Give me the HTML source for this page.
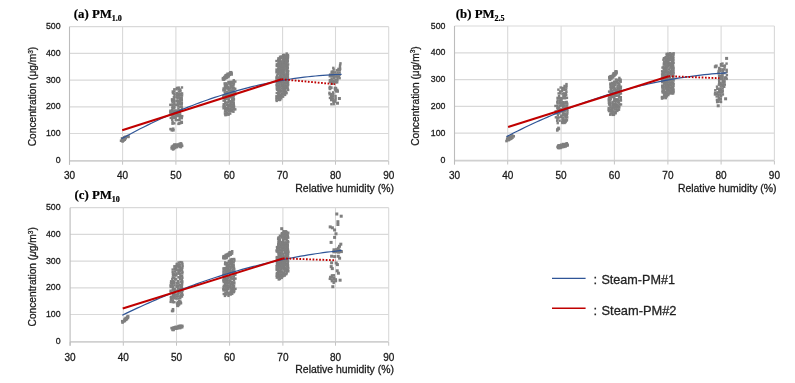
<!DOCTYPE html><html><head><meta charset="utf-8"><style>html,body{margin:0;padding:0;background:#fff;width:795px;height:383px;overflow:hidden}svg{display:block;filter:blur(0.3px)}text{font-family:"Liberation Sans",sans-serif;stroke:#1a1a1a;stroke-width:0.28px}.t{font-family:"Liberation Serif",serif;font-weight:bold;stroke:#000;stroke-width:0.2px}</style></head><body>
<svg width="795" height="383" viewBox="0 0 795 383">
<rect width="795" height="383" fill="#fff"/>
<line x1="69.5" y1="26.7" x2="388.7" y2="26.7" stroke="#d9d9d9" stroke-width="1.2"/>
<line x1="69.5" y1="53.4" x2="388.7" y2="53.4" stroke="#d9d9d9" stroke-width="1.2"/>
<line x1="69.5" y1="80.1" x2="388.7" y2="80.1" stroke="#d9d9d9" stroke-width="1.2"/>
<line x1="69.5" y1="106.8" x2="388.7" y2="106.8" stroke="#d9d9d9" stroke-width="1.2"/>
<line x1="69.5" y1="133.5" x2="388.7" y2="133.5" stroke="#d9d9d9" stroke-width="1.2"/>
<line x1="122.6" y1="26.7" x2="122.6" y2="160.2" stroke="#d9d9d9" stroke-width="1.1"/>
<line x1="175.9" y1="26.7" x2="175.9" y2="160.2" stroke="#d9d9d9" stroke-width="1.1"/>
<line x1="229.3" y1="26.7" x2="229.3" y2="160.2" stroke="#d9d9d9" stroke-width="1.1"/>
<line x1="282.6" y1="26.7" x2="282.6" y2="160.2" stroke="#d9d9d9" stroke-width="1.1"/>
<line x1="335.5" y1="26.7" x2="335.5" y2="160.2" stroke="#d9d9d9" stroke-width="1.1"/>
<line x1="388.7" y1="26.7" x2="388.7" y2="160.2" stroke="#d9d9d9" stroke-width="1.1"/>
<line x1="69.5" y1="160.9" x2="388.7" y2="160.9" stroke="#d0d0d0" stroke-width="1.8"/>
<line x1="69.5" y1="160.9" x2="69.5" y2="164.7" stroke="#c4c4c4" stroke-width="1"/>
<line x1="122.6" y1="160.9" x2="122.6" y2="164.7" stroke="#c4c4c4" stroke-width="1"/>
<line x1="175.9" y1="160.9" x2="175.9" y2="164.7" stroke="#c4c4c4" stroke-width="1"/>
<line x1="229.3" y1="160.9" x2="229.3" y2="164.7" stroke="#c4c4c4" stroke-width="1"/>
<line x1="282.6" y1="160.9" x2="282.6" y2="164.7" stroke="#c4c4c4" stroke-width="1"/>
<line x1="335.5" y1="160.9" x2="335.5" y2="164.7" stroke="#c4c4c4" stroke-width="1"/>
<line x1="388.7" y1="160.9" x2="388.7" y2="164.7" stroke="#c4c4c4" stroke-width="1"/>
<line x1="69.5" y1="26.7" x2="69.5" y2="164.7" stroke="#bcbcbc" stroke-width="1.1"/>
<text x="60.6" y="29.3" font-size="8.8" text-anchor="end" fill="#1a1a1a">500</text>
<text x="60.6" y="56" font-size="8.8" text-anchor="end" fill="#1a1a1a">400</text>
<text x="60.6" y="82.7" font-size="8.8" text-anchor="end" fill="#1a1a1a">300</text>
<text x="60.6" y="109.4" font-size="8.8" text-anchor="end" fill="#1a1a1a">200</text>
<text x="60.6" y="136.1" font-size="8.8" text-anchor="end" fill="#1a1a1a">100</text>
<text x="60.6" y="162.8" font-size="8.8" text-anchor="end" fill="#1a1a1a">0</text>
<text x="69.5" y="178.8" font-size="10" text-anchor="middle" fill="#1a1a1a">30</text>
<text x="122.6" y="178.8" font-size="10" text-anchor="middle" fill="#1a1a1a">40</text>
<text x="175.9" y="178.8" font-size="10" text-anchor="middle" fill="#1a1a1a">50</text>
<text x="229.3" y="178.8" font-size="10" text-anchor="middle" fill="#1a1a1a">60</text>
<text x="282.6" y="178.8" font-size="10" text-anchor="middle" fill="#1a1a1a">70</text>
<text x="335.5" y="178.8" font-size="10" text-anchor="middle" fill="#1a1a1a">80</text>
<text x="388.7" y="178.8" font-size="10" text-anchor="middle" fill="#1a1a1a">90</text>
<text x="295.3" y="191.8" font-size="10.3" textLength="98.6" lengthAdjust="spacingAndGlyphs" fill="#1a1a1a">Relative humidity (%)</text>
<text transform="translate(36.3,96.5) rotate(-90)" font-size="10.2" text-anchor="middle" fill="#1a1a1a">Concentration (μg/m<tspan font-size="6.5" dy="-3.5">3</tspan><tspan dy="3.5">)</tspan></text>
<text x="73.8" y="17.7" class="t" font-size="12.8" fill="#000">(a) PM<tspan font-size="8" dy="3">1.0</tspan></text>
<line x1="454.5" y1="26" x2="774.4" y2="26" stroke="#d9d9d9" stroke-width="1.2"/>
<line x1="454.5" y1="52.8" x2="774.4" y2="52.8" stroke="#d9d9d9" stroke-width="1.2"/>
<line x1="454.5" y1="79.6" x2="774.4" y2="79.6" stroke="#d9d9d9" stroke-width="1.2"/>
<line x1="454.5" y1="106.4" x2="774.4" y2="106.4" stroke="#d9d9d9" stroke-width="1.2"/>
<line x1="454.5" y1="133.2" x2="774.4" y2="133.2" stroke="#d9d9d9" stroke-width="1.2"/>
<line x1="507.7" y1="26" x2="507.7" y2="160" stroke="#d9d9d9" stroke-width="1.1"/>
<line x1="561.1" y1="26" x2="561.1" y2="160" stroke="#d9d9d9" stroke-width="1.1"/>
<line x1="614.4" y1="26" x2="614.4" y2="160" stroke="#d9d9d9" stroke-width="1.1"/>
<line x1="667.9" y1="26" x2="667.9" y2="160" stroke="#d9d9d9" stroke-width="1.1"/>
<line x1="721.1" y1="26" x2="721.1" y2="160" stroke="#d9d9d9" stroke-width="1.1"/>
<line x1="774.4" y1="26" x2="774.4" y2="160" stroke="#d9d9d9" stroke-width="1.1"/>
<line x1="454.5" y1="160.7" x2="774.4" y2="160.7" stroke="#d0d0d0" stroke-width="1.8"/>
<line x1="454.5" y1="160.7" x2="454.5" y2="164.5" stroke="#c4c4c4" stroke-width="1"/>
<line x1="507.7" y1="160.7" x2="507.7" y2="164.5" stroke="#c4c4c4" stroke-width="1"/>
<line x1="561.1" y1="160.7" x2="561.1" y2="164.5" stroke="#c4c4c4" stroke-width="1"/>
<line x1="614.4" y1="160.7" x2="614.4" y2="164.5" stroke="#c4c4c4" stroke-width="1"/>
<line x1="667.9" y1="160.7" x2="667.9" y2="164.5" stroke="#c4c4c4" stroke-width="1"/>
<line x1="721.1" y1="160.7" x2="721.1" y2="164.5" stroke="#c4c4c4" stroke-width="1"/>
<line x1="774.4" y1="160.7" x2="774.4" y2="164.5" stroke="#c4c4c4" stroke-width="1"/>
<line x1="454.5" y1="26" x2="454.5" y2="164.5" stroke="#bcbcbc" stroke-width="1.1"/>
<text x="445.5" y="28.6" font-size="8.8" text-anchor="end" fill="#1a1a1a">500</text>
<text x="445.5" y="55.4" font-size="8.8" text-anchor="end" fill="#1a1a1a">400</text>
<text x="445.5" y="82.2" font-size="8.8" text-anchor="end" fill="#1a1a1a">300</text>
<text x="445.5" y="109" font-size="8.8" text-anchor="end" fill="#1a1a1a">200</text>
<text x="445.5" y="135.8" font-size="8.8" text-anchor="end" fill="#1a1a1a">100</text>
<text x="445.5" y="162.6" font-size="8.8" text-anchor="end" fill="#1a1a1a">0</text>
<text x="454.5" y="178.7" font-size="10" text-anchor="middle" fill="#1a1a1a">30</text>
<text x="507.7" y="178.7" font-size="10" text-anchor="middle" fill="#1a1a1a">40</text>
<text x="561.1" y="178.7" font-size="10" text-anchor="middle" fill="#1a1a1a">50</text>
<text x="614.4" y="178.7" font-size="10" text-anchor="middle" fill="#1a1a1a">60</text>
<text x="667.9" y="178.7" font-size="10" text-anchor="middle" fill="#1a1a1a">70</text>
<text x="721.1" y="178.7" font-size="10" text-anchor="middle" fill="#1a1a1a">80</text>
<text x="774.4" y="178.7" font-size="10" text-anchor="middle" fill="#1a1a1a">90</text>
<text x="677.9" y="192.3" font-size="10.3" textLength="98.6" lengthAdjust="spacingAndGlyphs" fill="#1a1a1a">Relative humidity (%)</text>
<text transform="translate(418.8,96.1) rotate(-90)" font-size="10.2" text-anchor="middle" fill="#1a1a1a">Concentration (μg/m<tspan font-size="6.5" dy="-3.5">3</tspan><tspan dy="3.5">)</tspan></text>
<text x="455.8" y="17.7" class="t" font-size="12.8" fill="#000">(b) PM<tspan font-size="8" dy="3">2.5</tspan></text>
<line x1="70.1" y1="207.7" x2="388.7" y2="207.7" stroke="#d9d9d9" stroke-width="1.2"/>
<line x1="70.1" y1="234.4" x2="388.7" y2="234.4" stroke="#d9d9d9" stroke-width="1.2"/>
<line x1="70.1" y1="261.1" x2="388.7" y2="261.1" stroke="#d9d9d9" stroke-width="1.2"/>
<line x1="70.1" y1="287.8" x2="388.7" y2="287.8" stroke="#d9d9d9" stroke-width="1.2"/>
<line x1="70.1" y1="314.5" x2="388.7" y2="314.5" stroke="#d9d9d9" stroke-width="1.2"/>
<line x1="123.3" y1="207.7" x2="123.3" y2="341.2" stroke="#d9d9d9" stroke-width="1.1"/>
<line x1="176.5" y1="207.7" x2="176.5" y2="341.2" stroke="#d9d9d9" stroke-width="1.1"/>
<line x1="229.6" y1="207.7" x2="229.6" y2="341.2" stroke="#d9d9d9" stroke-width="1.1"/>
<line x1="282.9" y1="207.7" x2="282.9" y2="341.2" stroke="#d9d9d9" stroke-width="1.1"/>
<line x1="335.5" y1="207.7" x2="335.5" y2="341.2" stroke="#d9d9d9" stroke-width="1.1"/>
<line x1="388.7" y1="207.7" x2="388.7" y2="341.2" stroke="#d9d9d9" stroke-width="1.1"/>
<line x1="70.1" y1="341.9" x2="388.7" y2="341.9" stroke="#d0d0d0" stroke-width="1.8"/>
<line x1="70.1" y1="341.9" x2="70.1" y2="345.7" stroke="#c4c4c4" stroke-width="1"/>
<line x1="123.3" y1="341.9" x2="123.3" y2="345.7" stroke="#c4c4c4" stroke-width="1"/>
<line x1="176.5" y1="341.9" x2="176.5" y2="345.7" stroke="#c4c4c4" stroke-width="1"/>
<line x1="229.6" y1="341.9" x2="229.6" y2="345.7" stroke="#c4c4c4" stroke-width="1"/>
<line x1="282.9" y1="341.9" x2="282.9" y2="345.7" stroke="#c4c4c4" stroke-width="1"/>
<line x1="335.5" y1="341.9" x2="335.5" y2="345.7" stroke="#c4c4c4" stroke-width="1"/>
<line x1="388.7" y1="341.9" x2="388.7" y2="345.7" stroke="#c4c4c4" stroke-width="1"/>
<line x1="70.1" y1="207.7" x2="70.1" y2="345.7" stroke="#bcbcbc" stroke-width="1.1"/>
<text x="60.6" y="210.3" font-size="8.8" text-anchor="end" fill="#1a1a1a">500</text>
<text x="60.6" y="237" font-size="8.8" text-anchor="end" fill="#1a1a1a">400</text>
<text x="60.6" y="263.7" font-size="8.8" text-anchor="end" fill="#1a1a1a">300</text>
<text x="60.6" y="290.4" font-size="8.8" text-anchor="end" fill="#1a1a1a">200</text>
<text x="60.6" y="317.1" font-size="8.8" text-anchor="end" fill="#1a1a1a">100</text>
<text x="60.6" y="343.8" font-size="8.8" text-anchor="end" fill="#1a1a1a">0</text>
<text x="70.1" y="360.5" font-size="10" text-anchor="middle" fill="#1a1a1a">30</text>
<text x="123.3" y="360.5" font-size="10" text-anchor="middle" fill="#1a1a1a">40</text>
<text x="176.5" y="360.5" font-size="10" text-anchor="middle" fill="#1a1a1a">50</text>
<text x="229.6" y="360.5" font-size="10" text-anchor="middle" fill="#1a1a1a">60</text>
<text x="282.9" y="360.5" font-size="10" text-anchor="middle" fill="#1a1a1a">70</text>
<text x="335.5" y="360.5" font-size="10" text-anchor="middle" fill="#1a1a1a">80</text>
<text x="388.7" y="360.5" font-size="10" text-anchor="middle" fill="#1a1a1a">90</text>
<text x="295.3" y="372.7" font-size="10.3" textLength="98.6" lengthAdjust="spacingAndGlyphs" fill="#1a1a1a">Relative humidity (%)</text>
<text transform="translate(36.3,276.8) rotate(-90)" font-size="10.2" text-anchor="middle" fill="#1a1a1a">Concentration (<tspan font-style="italic">μ</tspan>g/m<tspan font-size="6.5" dy="-3.5">3</tspan><tspan dy="3.5">)</tspan></text>
<text x="74.5" y="198.9" class="t" font-size="12.8" fill="#000">(c) PM<tspan font-size="8" dy="3">10</tspan></text>
<g fill="#7f7f7f">
<rect x="126.94" y="134.76" width="2.6" height="2.6"/>
<rect x="123.04" y="135.99" width="2.6" height="2.6"/>
<rect x="124.32" y="135.39" width="2.6" height="2.6"/>
<rect x="126.05" y="135.44" width="2.6" height="2.6"/>
<rect x="127.11" y="135.6" width="2.6" height="2.6"/>
<rect x="120.76" y="137.04" width="2.6" height="2.6"/>
<rect x="122.05" y="136.97" width="2.6" height="2.6"/>
<rect x="123.24" y="137.14" width="2.6" height="2.6"/>
<rect x="124.4" y="136.96" width="2.6" height="2.6"/>
<rect x="121.21" y="137.82" width="2.6" height="2.6"/>
<rect x="121.83" y="138.23" width="2.6" height="2.6"/>
<rect x="123.46" y="138.4" width="2.6" height="2.6"/>
<rect x="119.78" y="139.43" width="2.6" height="2.6"/>
<rect x="121.16" y="139.42" width="2.6" height="2.6"/>
<rect x="122.46" y="139.13" width="2.6" height="2.6"/>
<rect x="121.3" y="140.16" width="2.6" height="2.6"/>
<rect x="175.72" y="86.72" width="2.4" height="2.4"/>
<rect x="177.54" y="86.41" width="2.4" height="2.4"/>
<rect x="180.75" y="86.27" width="2.4" height="2.4"/>
<rect x="173.1" y="88.12" width="2.4" height="2.4"/>
<rect x="175.29" y="88.02" width="2.4" height="2.4"/>
<rect x="177.39" y="88.12" width="2.4" height="2.4"/>
<rect x="179.08" y="88.29" width="2.4" height="2.4"/>
<rect x="171.57" y="90.29" width="2.4" height="2.4"/>
<rect x="173.18" y="90.17" width="2.4" height="2.4"/>
<rect x="177.66" y="90.32" width="2.4" height="2.4"/>
<rect x="179.23" y="89.92" width="2.4" height="2.4"/>
<rect x="171.76" y="92.01" width="2.4" height="2.4"/>
<rect x="173.23" y="92.42" width="2.4" height="2.4"/>
<rect x="175.62" y="92.06" width="2.4" height="2.4"/>
<rect x="177.55" y="92.59" width="2.4" height="2.4"/>
<rect x="179.44" y="92.45" width="2.4" height="2.4"/>
<rect x="180.88" y="92.21" width="2.4" height="2.4"/>
<rect x="173.32" y="93.91" width="2.4" height="2.4"/>
<rect x="175.77" y="94.06" width="2.4" height="2.4"/>
<rect x="177.69" y="94.46" width="2.4" height="2.4"/>
<rect x="178.98" y="93.88" width="2.4" height="2.4"/>
<rect x="180.86" y="94.2" width="2.4" height="2.4"/>
<rect x="172.67" y="96.03" width="2.4" height="2.4"/>
<rect x="175.13" y="96.1" width="2.4" height="2.4"/>
<rect x="176.54" y="96.13" width="2.4" height="2.4"/>
<rect x="178.94" y="96.28" width="2.4" height="2.4"/>
<rect x="180.52" y="96.26" width="2.4" height="2.4"/>
<rect x="170.82" y="98.12" width="2.4" height="2.4"/>
<rect x="172.72" y="98.06" width="2.4" height="2.4"/>
<rect x="176.5" y="97.41" width="2.4" height="2.4"/>
<rect x="178.82" y="97.82" width="2.4" height="2.4"/>
<rect x="180.55" y="98.1" width="2.4" height="2.4"/>
<rect x="170.93" y="99.49" width="2.4" height="2.4"/>
<rect x="172.81" y="99.64" width="2.4" height="2.4"/>
<rect x="175.23" y="99.58" width="2.4" height="2.4"/>
<rect x="176.87" y="100.02" width="2.4" height="2.4"/>
<rect x="179.03" y="99.7" width="2.4" height="2.4"/>
<rect x="180.62" y="99.31" width="2.4" height="2.4"/>
<rect x="171.34" y="101.34" width="2.4" height="2.4"/>
<rect x="173.18" y="101.65" width="2.4" height="2.4"/>
<rect x="176.48" y="101.65" width="2.4" height="2.4"/>
<rect x="178.52" y="101.82" width="2.4" height="2.4"/>
<rect x="180.65" y="101.81" width="2.4" height="2.4"/>
<rect x="169.15" y="103.59" width="2.4" height="2.4"/>
<rect x="171.11" y="103.65" width="2.4" height="2.4"/>
<rect x="173.03" y="103.48" width="2.4" height="2.4"/>
<rect x="175.06" y="103.8" width="2.4" height="2.4"/>
<rect x="176.61" y="103.55" width="2.4" height="2.4"/>
<rect x="178.97" y="103.21" width="2.4" height="2.4"/>
<rect x="180.55" y="103.16" width="2.4" height="2.4"/>
<rect x="171.33" y="105.72" width="2.4" height="2.4"/>
<rect x="173.17" y="105.53" width="2.4" height="2.4"/>
<rect x="177.16" y="105.32" width="2.4" height="2.4"/>
<rect x="179.09" y="105.67" width="2.4" height="2.4"/>
<rect x="180.55" y="105.41" width="2.4" height="2.4"/>
<rect x="171.28" y="106.92" width="2.4" height="2.4"/>
<rect x="172.95" y="106.91" width="2.4" height="2.4"/>
<rect x="177.19" y="107.53" width="2.4" height="2.4"/>
<rect x="180.82" y="107.12" width="2.4" height="2.4"/>
<rect x="169.14" y="109.53" width="2.4" height="2.4"/>
<rect x="170.91" y="108.92" width="2.4" height="2.4"/>
<rect x="173.06" y="109.36" width="2.4" height="2.4"/>
<rect x="174.55" y="109.35" width="2.4" height="2.4"/>
<rect x="176.46" y="109.55" width="2.4" height="2.4"/>
<rect x="178.94" y="108.87" width="2.4" height="2.4"/>
<rect x="180.25" y="109.49" width="2.4" height="2.4"/>
<rect x="169.07" y="111.14" width="2.4" height="2.4"/>
<rect x="170.91" y="110.8" width="2.4" height="2.4"/>
<rect x="172.79" y="110.79" width="2.4" height="2.4"/>
<rect x="174.54" y="110.86" width="2.4" height="2.4"/>
<rect x="176.64" y="111.31" width="2.4" height="2.4"/>
<rect x="178.7" y="110.84" width="2.4" height="2.4"/>
<rect x="169.39" y="113.04" width="2.4" height="2.4"/>
<rect x="171.08" y="113.35" width="2.4" height="2.4"/>
<rect x="173.26" y="112.95" width="2.4" height="2.4"/>
<rect x="175.17" y="112.91" width="2.4" height="2.4"/>
<rect x="176.95" y="113.39" width="2.4" height="2.4"/>
<rect x="178.97" y="113.17" width="2.4" height="2.4"/>
<rect x="171.29" y="114.7" width="2.4" height="2.4"/>
<rect x="172.67" y="115.17" width="2.4" height="2.4"/>
<rect x="175.04" y="114.73" width="2.4" height="2.4"/>
<rect x="176.63" y="114.87" width="2.4" height="2.4"/>
<rect x="178.66" y="114.71" width="2.4" height="2.4"/>
<rect x="180.98" y="114.94" width="2.4" height="2.4"/>
<rect x="169.57" y="116.65" width="2.4" height="2.4"/>
<rect x="170.7" y="116.71" width="2.4" height="2.4"/>
<rect x="173" y="116.56" width="2.4" height="2.4"/>
<rect x="174.5" y="116.61" width="2.4" height="2.4"/>
<rect x="178.54" y="116.59" width="2.4" height="2.4"/>
<rect x="180.62" y="117" width="2.4" height="2.4"/>
<rect x="171.01" y="118.56" width="2.4" height="2.4"/>
<rect x="174.54" y="118.97" width="2.4" height="2.4"/>
<rect x="176.9" y="118.89" width="2.4" height="2.4"/>
<rect x="178.41" y="118.72" width="2.4" height="2.4"/>
<rect x="171.41" y="120.75" width="2.4" height="2.4"/>
<rect x="171.3" y="122.5" width="2.4" height="2.4"/>
<rect x="173.13" y="122.15" width="2.4" height="2.4"/>
<rect x="180.3" y="120.69" width="2.6" height="2.6"/>
<rect x="178.24" y="121.85" width="2.6" height="2.6"/>
<rect x="179.13" y="121.71" width="2.6" height="2.6"/>
<rect x="180.47" y="121.39" width="2.6" height="2.6"/>
<rect x="177.25" y="122.51" width="2.6" height="2.6"/>
<rect x="169.29" y="127.82" width="2.6" height="2.6"/>
<rect x="171.89" y="127.46" width="2.6" height="2.6"/>
<rect x="170.55" y="128.97" width="2.6" height="2.6"/>
<rect x="172.1" y="128.97" width="2.6" height="2.6"/>
<rect x="178.53" y="142.45" width="2.6" height="2.6"/>
<rect x="179.71" y="142.11" width="2.6" height="2.6"/>
<rect x="173.05" y="143.34" width="2.6" height="2.6"/>
<rect x="173.54" y="143.49" width="2.6" height="2.6"/>
<rect x="175.3" y="143.42" width="2.6" height="2.6"/>
<rect x="175.94" y="143.64" width="2.6" height="2.6"/>
<rect x="177.48" y="143.17" width="2.6" height="2.6"/>
<rect x="178.89" y="143.68" width="2.6" height="2.6"/>
<rect x="180.02" y="143.14" width="2.6" height="2.6"/>
<rect x="171.82" y="144.5" width="2.6" height="2.6"/>
<rect x="173.03" y="144.9" width="2.6" height="2.6"/>
<rect x="173.61" y="144.25" width="2.6" height="2.6"/>
<rect x="174.97" y="144.17" width="2.6" height="2.6"/>
<rect x="176.11" y="144.56" width="2.6" height="2.6"/>
<rect x="177.7" y="144.43" width="2.6" height="2.6"/>
<rect x="178.72" y="144.4" width="2.6" height="2.6"/>
<rect x="179.55" y="144.32" width="2.6" height="2.6"/>
<rect x="180.8" y="144.5" width="2.6" height="2.6"/>
<rect x="170.59" y="145.47" width="2.6" height="2.6"/>
<rect x="171.3" y="145.62" width="2.6" height="2.6"/>
<rect x="173.06" y="145.98" width="2.6" height="2.6"/>
<rect x="173.52" y="145.33" width="2.6" height="2.6"/>
<rect x="175.42" y="145.68" width="2.6" height="2.6"/>
<rect x="175.9" y="145.61" width="2.6" height="2.6"/>
<rect x="179.08" y="145.5" width="2.6" height="2.6"/>
<rect x="179.62" y="145.72" width="2.6" height="2.6"/>
<rect x="170.42" y="147.11" width="2.6" height="2.6"/>
<rect x="171.54" y="146.53" width="2.6" height="2.6"/>
<rect x="172.49" y="147.24" width="2.6" height="2.6"/>
<rect x="173.74" y="146.6" width="2.6" height="2.6"/>
<rect x="171.81" y="148.08" width="2.6" height="2.6"/>
<rect x="229.16" y="71" width="2.6" height="2.6"/>
<rect x="229.78" y="70.93" width="2.6" height="2.6"/>
<rect x="226.31" y="72.52" width="2.6" height="2.6"/>
<rect x="227.79" y="72.6" width="2.6" height="2.6"/>
<rect x="228.66" y="71.95" width="2.6" height="2.6"/>
<rect x="230.2" y="71.83" width="2.6" height="2.6"/>
<rect x="225.08" y="73.76" width="2.6" height="2.6"/>
<rect x="226.77" y="73.17" width="2.6" height="2.6"/>
<rect x="227.86" y="73.66" width="2.6" height="2.6"/>
<rect x="228.44" y="73.38" width="2.6" height="2.6"/>
<rect x="230.34" y="73.15" width="2.6" height="2.6"/>
<rect x="224.21" y="74.23" width="2.6" height="2.6"/>
<rect x="224.85" y="74.94" width="2.6" height="2.6"/>
<rect x="226.6" y="74.92" width="2.6" height="2.6"/>
<rect x="227.42" y="74.97" width="2.6" height="2.6"/>
<rect x="223.13" y="75.91" width="2.6" height="2.6"/>
<rect x="223.62" y="75.59" width="2.6" height="2.6"/>
<rect x="225.57" y="76.16" width="2.6" height="2.6"/>
<rect x="226.2" y="75.74" width="2.6" height="2.6"/>
<rect x="221.69" y="76.86" width="2.6" height="2.6"/>
<rect x="222.69" y="77.23" width="2.6" height="2.6"/>
<rect x="223.76" y="77.2" width="2.6" height="2.6"/>
<rect x="224.85" y="76.63" width="2.6" height="2.6"/>
<rect x="221.77" y="78.16" width="2.6" height="2.6"/>
<rect x="222.73" y="78.3" width="2.6" height="2.6"/>
<rect x="232.58" y="79.06" width="2.4" height="2.4"/>
<rect x="227.25" y="80.84" width="2.4" height="2.4"/>
<rect x="228.91" y="80.77" width="2.4" height="2.4"/>
<rect x="230.53" y="80.63" width="2.4" height="2.4"/>
<rect x="232.37" y="80.44" width="2.4" height="2.4"/>
<rect x="234.11" y="80.35" width="2.4" height="2.4"/>
<rect x="223.46" y="82.16" width="2.4" height="2.4"/>
<rect x="225.35" y="82.15" width="2.4" height="2.4"/>
<rect x="227.59" y="82.34" width="2.4" height="2.4"/>
<rect x="228.78" y="82.22" width="2.4" height="2.4"/>
<rect x="230.96" y="81.97" width="2.4" height="2.4"/>
<rect x="232.76" y="82.23" width="2.4" height="2.4"/>
<rect x="223.74" y="83.98" width="2.4" height="2.4"/>
<rect x="226" y="83.94" width="2.4" height="2.4"/>
<rect x="229.42" y="83.99" width="2.4" height="2.4"/>
<rect x="230.77" y="84.36" width="2.4" height="2.4"/>
<rect x="232.33" y="83.66" width="2.4" height="2.4"/>
<rect x="223.75" y="85.8" width="2.4" height="2.4"/>
<rect x="225.43" y="85.82" width="2.4" height="2.4"/>
<rect x="227.04" y="85.79" width="2.4" height="2.4"/>
<rect x="229.47" y="85.56" width="2.4" height="2.4"/>
<rect x="231.2" y="86.18" width="2.4" height="2.4"/>
<rect x="232.24" y="86.14" width="2.4" height="2.4"/>
<rect x="222.36" y="87.28" width="2.4" height="2.4"/>
<rect x="223.63" y="87.47" width="2.4" height="2.4"/>
<rect x="225.86" y="87.3" width="2.4" height="2.4"/>
<rect x="227.27" y="87.56" width="2.4" height="2.4"/>
<rect x="228.8" y="87.35" width="2.4" height="2.4"/>
<rect x="231.17" y="87.18" width="2.4" height="2.4"/>
<rect x="232.81" y="87.18" width="2.4" height="2.4"/>
<rect x="234.04" y="87.63" width="2.4" height="2.4"/>
<rect x="222.2" y="89.14" width="2.4" height="2.4"/>
<rect x="223.92" y="89.24" width="2.4" height="2.4"/>
<rect x="227.45" y="89.29" width="2.4" height="2.4"/>
<rect x="229.31" y="89.52" width="2.4" height="2.4"/>
<rect x="230.59" y="89.28" width="2.4" height="2.4"/>
<rect x="232.3" y="89.24" width="2.4" height="2.4"/>
<rect x="223.52" y="91.24" width="2.4" height="2.4"/>
<rect x="225.61" y="90.69" width="2.4" height="2.4"/>
<rect x="227.25" y="91.41" width="2.4" height="2.4"/>
<rect x="229.39" y="91.45" width="2.4" height="2.4"/>
<rect x="231.1" y="90.8" width="2.4" height="2.4"/>
<rect x="232.59" y="91.42" width="2.4" height="2.4"/>
<rect x="234.08" y="91.28" width="2.4" height="2.4"/>
<rect x="224.05" y="92.53" width="2.4" height="2.4"/>
<rect x="225.42" y="93.05" width="2.4" height="2.4"/>
<rect x="227.35" y="93.14" width="2.4" height="2.4"/>
<rect x="228.91" y="92.8" width="2.4" height="2.4"/>
<rect x="230.48" y="92.55" width="2.4" height="2.4"/>
<rect x="232.95" y="92.94" width="2.4" height="2.4"/>
<rect x="234.08" y="93.03" width="2.4" height="2.4"/>
<rect x="222.12" y="94.66" width="2.4" height="2.4"/>
<rect x="224.15" y="94.59" width="2.4" height="2.4"/>
<rect x="225.91" y="94.23" width="2.4" height="2.4"/>
<rect x="227.45" y="94.47" width="2.4" height="2.4"/>
<rect x="228.91" y="94.94" width="2.4" height="2.4"/>
<rect x="230.74" y="94.76" width="2.4" height="2.4"/>
<rect x="232.34" y="94.74" width="2.4" height="2.4"/>
<rect x="222.21" y="96.69" width="2.4" height="2.4"/>
<rect x="225.23" y="96.02" width="2.4" height="2.4"/>
<rect x="227.3" y="96.31" width="2.4" height="2.4"/>
<rect x="228.81" y="96.08" width="2.4" height="2.4"/>
<rect x="230.47" y="95.9" width="2.4" height="2.4"/>
<rect x="232.29" y="96.19" width="2.4" height="2.4"/>
<rect x="223.83" y="97.76" width="2.4" height="2.4"/>
<rect x="225.39" y="97.77" width="2.4" height="2.4"/>
<rect x="227.46" y="98.35" width="2.4" height="2.4"/>
<rect x="230.97" y="98.1" width="2.4" height="2.4"/>
<rect x="232.72" y="98.01" width="2.4" height="2.4"/>
<rect x="222.42" y="99.44" width="2.4" height="2.4"/>
<rect x="223.77" y="99.59" width="2.4" height="2.4"/>
<rect x="227.7" y="99.51" width="2.4" height="2.4"/>
<rect x="229.19" y="99.81" width="2.4" height="2.4"/>
<rect x="231.1" y="99.54" width="2.4" height="2.4"/>
<rect x="232.44" y="99.44" width="2.4" height="2.4"/>
<rect x="224.05" y="101.52" width="2.4" height="2.4"/>
<rect x="225.56" y="101.33" width="2.4" height="2.4"/>
<rect x="227.14" y="101.18" width="2.4" height="2.4"/>
<rect x="229.3" y="101.71" width="2.4" height="2.4"/>
<rect x="231.02" y="101.36" width="2.4" height="2.4"/>
<rect x="232.55" y="101.78" width="2.4" height="2.4"/>
<rect x="222.47" y="103.07" width="2.4" height="2.4"/>
<rect x="223.46" y="103.11" width="2.4" height="2.4"/>
<rect x="225.8" y="103.66" width="2.4" height="2.4"/>
<rect x="227.21" y="103.6" width="2.4" height="2.4"/>
<rect x="228.89" y="103.63" width="2.4" height="2.4"/>
<rect x="231" y="103.43" width="2.4" height="2.4"/>
<rect x="232.58" y="103.57" width="2.4" height="2.4"/>
<rect x="222.28" y="105.11" width="2.4" height="2.4"/>
<rect x="223.62" y="105.15" width="2.4" height="2.4"/>
<rect x="227.04" y="105.39" width="2.4" height="2.4"/>
<rect x="228.81" y="104.67" width="2.4" height="2.4"/>
<rect x="231" y="105.16" width="2.4" height="2.4"/>
<rect x="232.79" y="104.7" width="2.4" height="2.4"/>
<rect x="222.36" y="107.11" width="2.4" height="2.4"/>
<rect x="224.14" y="107.13" width="2.4" height="2.4"/>
<rect x="225.29" y="106.56" width="2.4" height="2.4"/>
<rect x="226.98" y="107.08" width="2.4" height="2.4"/>
<rect x="229.21" y="107.06" width="2.4" height="2.4"/>
<rect x="230.68" y="106.48" width="2.4" height="2.4"/>
<rect x="232.81" y="106.56" width="2.4" height="2.4"/>
<rect x="224.02" y="108.44" width="2.4" height="2.4"/>
<rect x="225.97" y="108.55" width="2.4" height="2.4"/>
<rect x="227.44" y="108.17" width="2.4" height="2.4"/>
<rect x="229.05" y="108.77" width="2.4" height="2.4"/>
<rect x="231.01" y="108.58" width="2.4" height="2.4"/>
<rect x="232.89" y="108.22" width="2.4" height="2.4"/>
<rect x="234.09" y="108.15" width="2.4" height="2.4"/>
<rect x="223.84" y="110.29" width="2.4" height="2.4"/>
<rect x="225.35" y="110.3" width="2.4" height="2.4"/>
<rect x="227.62" y="110.11" width="2.4" height="2.4"/>
<rect x="228.93" y="110.07" width="2.4" height="2.4"/>
<rect x="230.85" y="109.99" width="2.4" height="2.4"/>
<rect x="232.26" y="110.53" width="2.4" height="2.4"/>
<rect x="223.77" y="112.36" width="2.4" height="2.4"/>
<rect x="225.91" y="111.67" width="2.4" height="2.4"/>
<rect x="227.16" y="112.37" width="2.4" height="2.4"/>
<rect x="229" y="112.36" width="2.4" height="2.4"/>
<rect x="224.12" y="113.93" width="2.4" height="2.4"/>
<rect x="225.34" y="113.75" width="2.4" height="2.4"/>
<rect x="227.41" y="113.5" width="2.4" height="2.4"/>
<rect x="285.49" y="52.34" width="2.4" height="2.4"/>
<rect x="281.9" y="53.81" width="2.4" height="2.4"/>
<rect x="283.21" y="53.78" width="2.4" height="2.4"/>
<rect x="285.29" y="54.03" width="2.4" height="2.4"/>
<rect x="286.76" y="53.9" width="2.4" height="2.4"/>
<rect x="278.86" y="55.58" width="2.4" height="2.4"/>
<rect x="280.41" y="55.26" width="2.4" height="2.4"/>
<rect x="282" y="54.98" width="2.4" height="2.4"/>
<rect x="283.73" y="55.47" width="2.4" height="2.4"/>
<rect x="284.9" y="55.24" width="2.4" height="2.4"/>
<rect x="286.8" y="55.23" width="2.4" height="2.4"/>
<rect x="277.22" y="57.12" width="2.4" height="2.4"/>
<rect x="278.69" y="57.28" width="2.4" height="2.4"/>
<rect x="280.33" y="56.63" width="2.4" height="2.4"/>
<rect x="282.25" y="56.92" width="2.4" height="2.4"/>
<rect x="283.56" y="56.93" width="2.4" height="2.4"/>
<rect x="285.11" y="57.01" width="2.4" height="2.4"/>
<rect x="286.72" y="56.83" width="2.4" height="2.4"/>
<rect x="277.01" y="58.71" width="2.4" height="2.4"/>
<rect x="279.09" y="58.38" width="2.4" height="2.4"/>
<rect x="281.83" y="58.44" width="2.4" height="2.4"/>
<rect x="283.38" y="58.31" width="2.4" height="2.4"/>
<rect x="285.29" y="58.85" width="2.4" height="2.4"/>
<rect x="286.48" y="58.74" width="2.4" height="2.4"/>
<rect x="275.27" y="59.8" width="2.4" height="2.4"/>
<rect x="277.35" y="60.21" width="2.4" height="2.4"/>
<rect x="278.75" y="59.88" width="2.4" height="2.4"/>
<rect x="280.18" y="60.21" width="2.4" height="2.4"/>
<rect x="282.15" y="60.07" width="2.4" height="2.4"/>
<rect x="283.54" y="59.8" width="2.4" height="2.4"/>
<rect x="284.98" y="60.38" width="2.4" height="2.4"/>
<rect x="286.6" y="59.9" width="2.4" height="2.4"/>
<rect x="277.28" y="61.52" width="2.4" height="2.4"/>
<rect x="278.54" y="61.68" width="2.4" height="2.4"/>
<rect x="280.41" y="61.83" width="2.4" height="2.4"/>
<rect x="282.24" y="61.98" width="2.4" height="2.4"/>
<rect x="283.76" y="62.02" width="2.4" height="2.4"/>
<rect x="284.81" y="61.97" width="2.4" height="2.4"/>
<rect x="286.31" y="61.31" width="2.4" height="2.4"/>
<rect x="275.62" y="63.1" width="2.4" height="2.4"/>
<rect x="276.81" y="63.09" width="2.4" height="2.4"/>
<rect x="278.58" y="63.02" width="2.4" height="2.4"/>
<rect x="280.53" y="63.03" width="2.4" height="2.4"/>
<rect x="281.99" y="63.53" width="2.4" height="2.4"/>
<rect x="283.82" y="63.53" width="2.4" height="2.4"/>
<rect x="284.86" y="63.45" width="2.4" height="2.4"/>
<rect x="286.89" y="63.25" width="2.4" height="2.4"/>
<rect x="275.54" y="64.71" width="2.4" height="2.4"/>
<rect x="276.81" y="64.89" width="2.4" height="2.4"/>
<rect x="278.67" y="64.62" width="2.4" height="2.4"/>
<rect x="280.3" y="64.93" width="2.4" height="2.4"/>
<rect x="281.51" y="65.17" width="2.4" height="2.4"/>
<rect x="283.55" y="65.03" width="2.4" height="2.4"/>
<rect x="285" y="64.84" width="2.4" height="2.4"/>
<rect x="286.36" y="65.01" width="2.4" height="2.4"/>
<rect x="277.25" y="66.85" width="2.4" height="2.4"/>
<rect x="279.09" y="66.51" width="2.4" height="2.4"/>
<rect x="280.62" y="66.13" width="2.4" height="2.4"/>
<rect x="282" y="66.37" width="2.4" height="2.4"/>
<rect x="283.39" y="66.48" width="2.4" height="2.4"/>
<rect x="285.32" y="66.27" width="2.4" height="2.4"/>
<rect x="286.64" y="66.54" width="2.4" height="2.4"/>
<rect x="275.33" y="68.36" width="2.4" height="2.4"/>
<rect x="277.1" y="67.92" width="2.4" height="2.4"/>
<rect x="279.08" y="68.22" width="2.4" height="2.4"/>
<rect x="280.16" y="67.95" width="2.4" height="2.4"/>
<rect x="281.97" y="68.21" width="2.4" height="2.4"/>
<rect x="283.13" y="68.28" width="2.4" height="2.4"/>
<rect x="285.14" y="67.74" width="2.4" height="2.4"/>
<rect x="286.3" y="67.85" width="2.4" height="2.4"/>
<rect x="275.59" y="69.83" width="2.4" height="2.4"/>
<rect x="277.43" y="69.79" width="2.4" height="2.4"/>
<rect x="278.8" y="69.86" width="2.4" height="2.4"/>
<rect x="280.44" y="69.47" width="2.4" height="2.4"/>
<rect x="281.87" y="69.91" width="2.4" height="2.4"/>
<rect x="283.25" y="69.33" width="2.4" height="2.4"/>
<rect x="285.43" y="69.82" width="2.4" height="2.4"/>
<rect x="286.96" y="69.93" width="2.4" height="2.4"/>
<rect x="275.31" y="71.14" width="2.4" height="2.4"/>
<rect x="276.95" y="71.24" width="2.4" height="2.4"/>
<rect x="279.05" y="70.94" width="2.4" height="2.4"/>
<rect x="279.93" y="71" width="2.4" height="2.4"/>
<rect x="281.96" y="71.63" width="2.4" height="2.4"/>
<rect x="283.11" y="71.21" width="2.4" height="2.4"/>
<rect x="285.45" y="71.68" width="2.4" height="2.4"/>
<rect x="286.63" y="70.98" width="2.4" height="2.4"/>
<rect x="276.7" y="73.05" width="2.4" height="2.4"/>
<rect x="279.07" y="72.57" width="2.4" height="2.4"/>
<rect x="280" y="72.51" width="2.4" height="2.4"/>
<rect x="281.69" y="73.09" width="2.4" height="2.4"/>
<rect x="283.14" y="73.12" width="2.4" height="2.4"/>
<rect x="285.38" y="73.08" width="2.4" height="2.4"/>
<rect x="286.8" y="73.07" width="2.4" height="2.4"/>
<rect x="275.85" y="74.3" width="2.4" height="2.4"/>
<rect x="278.82" y="74.75" width="2.4" height="2.4"/>
<rect x="280.15" y="74.68" width="2.4" height="2.4"/>
<rect x="282.19" y="74.49" width="2.4" height="2.4"/>
<rect x="283.39" y="74.56" width="2.4" height="2.4"/>
<rect x="285.24" y="74.22" width="2.4" height="2.4"/>
<rect x="286.59" y="74.62" width="2.4" height="2.4"/>
<rect x="275.43" y="76.01" width="2.4" height="2.4"/>
<rect x="277.46" y="76.33" width="2.4" height="2.4"/>
<rect x="278.53" y="75.75" width="2.4" height="2.4"/>
<rect x="280.46" y="76.36" width="2.4" height="2.4"/>
<rect x="281.98" y="76.48" width="2.4" height="2.4"/>
<rect x="283.58" y="75.95" width="2.4" height="2.4"/>
<rect x="285.41" y="76" width="2.4" height="2.4"/>
<rect x="286.78" y="76.42" width="2.4" height="2.4"/>
<rect x="275.33" y="77.3" width="2.4" height="2.4"/>
<rect x="277.04" y="77.77" width="2.4" height="2.4"/>
<rect x="279.01" y="77.33" width="2.4" height="2.4"/>
<rect x="280.55" y="77.99" width="2.4" height="2.4"/>
<rect x="281.72" y="77.98" width="2.4" height="2.4"/>
<rect x="283.65" y="78.03" width="2.4" height="2.4"/>
<rect x="284.77" y="77.74" width="2.4" height="2.4"/>
<rect x="286.46" y="77.9" width="2.4" height="2.4"/>
<rect x="275.29" y="79.39" width="2.4" height="2.4"/>
<rect x="277.07" y="79.07" width="2.4" height="2.4"/>
<rect x="278.9" y="79.53" width="2.4" height="2.4"/>
<rect x="279.97" y="79.55" width="2.4" height="2.4"/>
<rect x="281.69" y="79.36" width="2.4" height="2.4"/>
<rect x="283.81" y="79.32" width="2.4" height="2.4"/>
<rect x="285.17" y="79.05" width="2.4" height="2.4"/>
<rect x="286.44" y="79.46" width="2.4" height="2.4"/>
<rect x="275.55" y="80.82" width="2.4" height="2.4"/>
<rect x="276.82" y="80.54" width="2.4" height="2.4"/>
<rect x="278.6" y="80.58" width="2.4" height="2.4"/>
<rect x="280.53" y="80.62" width="2.4" height="2.4"/>
<rect x="281.78" y="80.92" width="2.4" height="2.4"/>
<rect x="283.13" y="81.29" width="2.4" height="2.4"/>
<rect x="285.09" y="80.95" width="2.4" height="2.4"/>
<rect x="286.92" y="80.84" width="2.4" height="2.4"/>
<rect x="275.71" y="82.76" width="2.4" height="2.4"/>
<rect x="276.9" y="82.13" width="2.4" height="2.4"/>
<rect x="278.44" y="82.17" width="2.4" height="2.4"/>
<rect x="280.35" y="82.8" width="2.4" height="2.4"/>
<rect x="282.26" y="82.83" width="2.4" height="2.4"/>
<rect x="283.58" y="82.42" width="2.4" height="2.4"/>
<rect x="285.47" y="82.31" width="2.4" height="2.4"/>
<rect x="286.81" y="82.87" width="2.4" height="2.4"/>
<rect x="275.41" y="84.06" width="2.4" height="2.4"/>
<rect x="277.47" y="84.49" width="2.4" height="2.4"/>
<rect x="278.33" y="83.9" width="2.4" height="2.4"/>
<rect x="280.62" y="84.42" width="2.4" height="2.4"/>
<rect x="281.54" y="84.33" width="2.4" height="2.4"/>
<rect x="283.62" y="84.49" width="2.4" height="2.4"/>
<rect x="284.82" y="84.3" width="2.4" height="2.4"/>
<rect x="286.84" y="83.94" width="2.4" height="2.4"/>
<rect x="275.71" y="85.38" width="2.4" height="2.4"/>
<rect x="276.91" y="85.4" width="2.4" height="2.4"/>
<rect x="278.43" y="85.49" width="2.4" height="2.4"/>
<rect x="280.44" y="85.31" width="2.4" height="2.4"/>
<rect x="281.66" y="85.33" width="2.4" height="2.4"/>
<rect x="283.28" y="86.05" width="2.4" height="2.4"/>
<rect x="285.41" y="85.41" width="2.4" height="2.4"/>
<rect x="286.38" y="86.04" width="2.4" height="2.4"/>
<rect x="275.6" y="87.26" width="2.4" height="2.4"/>
<rect x="277.36" y="87.28" width="2.4" height="2.4"/>
<rect x="278.41" y="87.08" width="2.4" height="2.4"/>
<rect x="280.47" y="87.34" width="2.4" height="2.4"/>
<rect x="282.2" y="87.11" width="2.4" height="2.4"/>
<rect x="283.22" y="87.12" width="2.4" height="2.4"/>
<rect x="284.97" y="87.03" width="2.4" height="2.4"/>
<rect x="286.55" y="87.62" width="2.4" height="2.4"/>
<rect x="275.88" y="88.55" width="2.4" height="2.4"/>
<rect x="277.23" y="88.67" width="2.4" height="2.4"/>
<rect x="278.53" y="88.71" width="2.4" height="2.4"/>
<rect x="280.19" y="89.29" width="2.4" height="2.4"/>
<rect x="282.24" y="88.58" width="2.4" height="2.4"/>
<rect x="283.82" y="88.55" width="2.4" height="2.4"/>
<rect x="286.95" y="88.77" width="2.4" height="2.4"/>
<rect x="277.12" y="90.25" width="2.4" height="2.4"/>
<rect x="279.03" y="90.27" width="2.4" height="2.4"/>
<rect x="280.01" y="90.24" width="2.4" height="2.4"/>
<rect x="282.07" y="90.26" width="2.4" height="2.4"/>
<rect x="283.17" y="90.59" width="2.4" height="2.4"/>
<rect x="284.92" y="90.26" width="2.4" height="2.4"/>
<rect x="275.57" y="91.86" width="2.4" height="2.4"/>
<rect x="277.29" y="92.03" width="2.4" height="2.4"/>
<rect x="278.34" y="92.35" width="2.4" height="2.4"/>
<rect x="280.57" y="92.39" width="2.4" height="2.4"/>
<rect x="281.51" y="92.43" width="2.4" height="2.4"/>
<rect x="283.8" y="91.91" width="2.4" height="2.4"/>
<rect x="285.37" y="91.99" width="2.4" height="2.4"/>
<rect x="277.06" y="93.71" width="2.4" height="2.4"/>
<rect x="278.87" y="93.95" width="2.4" height="2.4"/>
<rect x="280.16" y="93.87" width="2.4" height="2.4"/>
<rect x="282.1" y="93.35" width="2.4" height="2.4"/>
<rect x="283.86" y="93.7" width="2.4" height="2.4"/>
<rect x="275.28" y="95.05" width="2.4" height="2.4"/>
<rect x="276.9" y="95.55" width="2.4" height="2.4"/>
<rect x="278.38" y="95.46" width="2.4" height="2.4"/>
<rect x="279.91" y="95.38" width="2.4" height="2.4"/>
<rect x="281.92" y="95.46" width="2.4" height="2.4"/>
<rect x="275.32" y="96.6" width="2.4" height="2.4"/>
<rect x="276.81" y="96.97" width="2.4" height="2.4"/>
<rect x="278.42" y="96.96" width="2.4" height="2.4"/>
<rect x="280.03" y="97.16" width="2.4" height="2.4"/>
<rect x="275.29" y="98.37" width="2.4" height="2.4"/>
<rect x="277.48" y="98.74" width="2.4" height="2.4"/>
<rect x="278.95" y="98.78" width="2.4" height="2.4"/>
<rect x="275.5" y="99.72" width="2.4" height="2.4"/>
<rect x="339.26" y="62.13" width="2.4" height="2.4"/>
<rect x="338.91" y="63.81" width="2.4" height="2.4"/>
<rect x="338.73" y="65.63" width="2.4" height="2.4"/>
<rect x="337.24" y="67.67" width="2.4" height="2.4"/>
<rect x="338.96" y="67.52" width="2.4" height="2.4"/>
<rect x="335.67" y="69.07" width="2.4" height="2.4"/>
<rect x="337.29" y="69.08" width="2.4" height="2.4"/>
<rect x="338.69" y="68.88" width="2.4" height="2.4"/>
<rect x="332.11" y="66.68" width="2.4" height="2.4"/>
<rect x="332.49" y="68.33" width="2.4" height="2.4"/>
<rect x="330.64" y="70.42" width="2.4" height="2.4"/>
<rect x="332.15" y="70.5" width="2.4" height="2.4"/>
<rect x="330.55" y="71.49" width="2.4" height="2.4"/>
<rect x="332.28" y="71.67" width="2.4" height="2.4"/>
<rect x="334.12" y="71.17" width="2.4" height="2.4"/>
<rect x="336.44" y="71.39" width="2.4" height="2.4"/>
<rect x="338.46" y="71.31" width="2.4" height="2.4"/>
<rect x="328.89" y="73.41" width="2.4" height="2.4"/>
<rect x="330.83" y="73.37" width="2.4" height="2.4"/>
<rect x="334.61" y="73.27" width="2.4" height="2.4"/>
<rect x="336.67" y="73.26" width="2.4" height="2.4"/>
<rect x="338.43" y="73.5" width="2.4" height="2.4"/>
<rect x="328.6" y="75.06" width="2.4" height="2.4"/>
<rect x="330.78" y="74.93" width="2.4" height="2.4"/>
<rect x="332.54" y="75.01" width="2.4" height="2.4"/>
<rect x="334.63" y="75.38" width="2.4" height="2.4"/>
<rect x="336.26" y="74.85" width="2.4" height="2.4"/>
<rect x="337.92" y="75.16" width="2.4" height="2.4"/>
<rect x="330.46" y="77.27" width="2.4" height="2.4"/>
<rect x="332.87" y="76.76" width="2.4" height="2.4"/>
<rect x="336.35" y="77" width="2.4" height="2.4"/>
<rect x="338.42" y="77.03" width="2.4" height="2.4"/>
<rect x="328.71" y="78.91" width="2.4" height="2.4"/>
<rect x="330.51" y="78.79" width="2.4" height="2.4"/>
<rect x="332.38" y="79.26" width="2.4" height="2.4"/>
<rect x="334.42" y="78.58" width="2.4" height="2.4"/>
<rect x="336.22" y="78.95" width="2.4" height="2.4"/>
<rect x="328.69" y="80.75" width="2.4" height="2.4"/>
<rect x="331" y="80.67" width="2.4" height="2.4"/>
<rect x="332.75" y="80.54" width="2.4" height="2.4"/>
<rect x="334.78" y="81.06" width="2.4" height="2.4"/>
<rect x="335.99" y="81.12" width="2.4" height="2.4"/>
<rect x="330.33" y="82.53" width="2.4" height="2.4"/>
<rect x="332.5" y="82.45" width="2.4" height="2.4"/>
<rect x="328.63" y="85.63" width="2.6" height="2.6"/>
<rect x="328.54" y="86.87" width="2.6" height="2.6"/>
<rect x="330.03" y="86.36" width="2.6" height="2.6"/>
<rect x="328.74" y="87.61" width="2.6" height="2.6"/>
<rect x="333.76" y="86.63" width="2.6" height="2.6"/>
<rect x="334.63" y="86.91" width="2.6" height="2.6"/>
<rect x="333.79" y="88.15" width="2.6" height="2.6"/>
<rect x="334.51" y="88.12" width="2.6" height="2.6"/>
<rect x="334.97" y="88.98" width="2.6" height="2.6"/>
<rect x="336.01" y="88.74" width="2.6" height="2.6"/>
<rect x="334.7" y="89.94" width="2.6" height="2.6"/>
<rect x="336.38" y="90.15" width="2.6" height="2.6"/>
<rect x="328.25" y="91.6" width="2.4" height="2.4"/>
<rect x="331.94" y="91.19" width="2.4" height="2.4"/>
<rect x="328.43" y="93.11" width="2.4" height="2.4"/>
<rect x="329.95" y="92.9" width="2.4" height="2.4"/>
<rect x="332.08" y="93" width="2.4" height="2.4"/>
<rect x="329.97" y="94.92" width="2.4" height="2.4"/>
<rect x="331.9" y="95.05" width="2.4" height="2.4"/>
<rect x="334.34" y="94.83" width="2.4" height="2.4"/>
<rect x="328.77" y="96.77" width="2.4" height="2.4"/>
<rect x="330.3" y="96.78" width="2.4" height="2.4"/>
<rect x="331.9" y="97.17" width="2.4" height="2.4"/>
<rect x="334.42" y="97.07" width="2.4" height="2.4"/>
<rect x="330" y="98.91" width="2.4" height="2.4"/>
<rect x="332.02" y="99.12" width="2.4" height="2.4"/>
<rect x="334.23" y="98.95" width="2.4" height="2.4"/>
<rect x="332.25" y="100.69" width="2.4" height="2.4"/>
<rect x="333.94" y="100.45" width="2.4" height="2.4"/>
<rect x="330.22" y="103.03" width="2.4" height="2.4"/>
<rect x="332.51" y="102.99" width="2.4" height="2.4"/>
<rect x="337.9" y="97" width="3.0" height="3.0"/>
<rect x="336" y="101.7" width="3.0" height="3.0"/>
<rect x="510.85" y="134.11" width="2.6" height="2.6"/>
<rect x="508.87" y="135.42" width="2.6" height="2.6"/>
<rect x="509.43" y="135.48" width="2.6" height="2.6"/>
<rect x="510.64" y="135" width="2.6" height="2.6"/>
<rect x="512.43" y="134.97" width="2.6" height="2.6"/>
<rect x="506.36" y="136.31" width="2.6" height="2.6"/>
<rect x="507.66" y="136.22" width="2.6" height="2.6"/>
<rect x="508.96" y="136.34" width="2.6" height="2.6"/>
<rect x="509.95" y="136.59" width="2.6" height="2.6"/>
<rect x="511.1" y="136.36" width="2.6" height="2.6"/>
<rect x="505.9" y="137.81" width="2.6" height="2.6"/>
<rect x="507.56" y="137.84" width="2.6" height="2.6"/>
<rect x="508.64" y="137.98" width="2.6" height="2.6"/>
<rect x="509.84" y="137.4" width="2.6" height="2.6"/>
<rect x="506.34" y="138.59" width="2.6" height="2.6"/>
<rect x="507.41" y="138.76" width="2.6" height="2.6"/>
<rect x="505.21" y="139.74" width="2.6" height="2.6"/>
<rect x="565.29" y="82.9" width="2.4" height="2.4"/>
<rect x="563.34" y="84.72" width="2.4" height="2.4"/>
<rect x="565.25" y="84.72" width="2.4" height="2.4"/>
<rect x="559.47" y="86.34" width="2.4" height="2.4"/>
<rect x="561.21" y="86.78" width="2.4" height="2.4"/>
<rect x="562.73" y="86.73" width="2.4" height="2.4"/>
<rect x="565.09" y="86.36" width="2.4" height="2.4"/>
<rect x="557.19" y="88.44" width="2.4" height="2.4"/>
<rect x="561.15" y="88.5" width="2.4" height="2.4"/>
<rect x="563.16" y="88.72" width="2.4" height="2.4"/>
<rect x="564.9" y="88.4" width="2.4" height="2.4"/>
<rect x="558.93" y="90.25" width="2.4" height="2.4"/>
<rect x="560.77" y="89.93" width="2.4" height="2.4"/>
<rect x="565.17" y="90.58" width="2.4" height="2.4"/>
<rect x="557.43" y="92.21" width="2.4" height="2.4"/>
<rect x="559.07" y="92.15" width="2.4" height="2.4"/>
<rect x="561.36" y="92.52" width="2.4" height="2.4"/>
<rect x="562.84" y="92.15" width="2.4" height="2.4"/>
<rect x="564.78" y="91.96" width="2.4" height="2.4"/>
<rect x="563.25" y="93.75" width="2.4" height="2.4"/>
<rect x="564.99" y="93.94" width="2.4" height="2.4"/>
<rect x="557.82" y="94.85" width="2.4" height="2.4"/>
<rect x="562.13" y="95" width="2.4" height="2.4"/>
<rect x="563.83" y="95.12" width="2.4" height="2.4"/>
<rect x="556.34" y="96.69" width="2.4" height="2.4"/>
<rect x="558" y="96.68" width="2.4" height="2.4"/>
<rect x="559.9" y="96.99" width="2.4" height="2.4"/>
<rect x="561.78" y="97.06" width="2.4" height="2.4"/>
<rect x="563.91" y="97.07" width="2.4" height="2.4"/>
<rect x="565.73" y="96.66" width="2.4" height="2.4"/>
<rect x="556.47" y="99.11" width="2.4" height="2.4"/>
<rect x="558.59" y="99.08" width="2.4" height="2.4"/>
<rect x="560.36" y="98.81" width="2.4" height="2.4"/>
<rect x="556.14" y="100.97" width="2.4" height="2.4"/>
<rect x="558.51" y="100.9" width="2.4" height="2.4"/>
<rect x="560.15" y="101.13" width="2.4" height="2.4"/>
<rect x="561.73" y="101" width="2.4" height="2.4"/>
<rect x="564.11" y="100.94" width="2.4" height="2.4"/>
<rect x="565.5" y="100.7" width="2.4" height="2.4"/>
<rect x="556.38" y="102.38" width="2.4" height="2.4"/>
<rect x="558.44" y="102.39" width="2.4" height="2.4"/>
<rect x="560.24" y="102.5" width="2.4" height="2.4"/>
<rect x="561.96" y="102.97" width="2.4" height="2.4"/>
<rect x="563.59" y="102.32" width="2.4" height="2.4"/>
<rect x="566.04" y="102.45" width="2.4" height="2.4"/>
<rect x="554.23" y="104.75" width="2.4" height="2.4"/>
<rect x="556.02" y="104.9" width="2.4" height="2.4"/>
<rect x="558.35" y="104.85" width="2.4" height="2.4"/>
<rect x="559.71" y="104.47" width="2.4" height="2.4"/>
<rect x="562" y="104.9" width="2.4" height="2.4"/>
<rect x="563.53" y="104.35" width="2.4" height="2.4"/>
<rect x="565.94" y="104.51" width="2.4" height="2.4"/>
<rect x="556.21" y="106.8" width="2.4" height="2.4"/>
<rect x="557.86" y="106.36" width="2.4" height="2.4"/>
<rect x="561.74" y="106.39" width="2.4" height="2.4"/>
<rect x="563.96" y="106.41" width="2.4" height="2.4"/>
<rect x="565.4" y="106.56" width="2.4" height="2.4"/>
<rect x="556.69" y="108.04" width="2.4" height="2.4"/>
<rect x="558.34" y="108.22" width="2.4" height="2.4"/>
<rect x="560.1" y="108.21" width="2.4" height="2.4"/>
<rect x="562.02" y="108.77" width="2.4" height="2.4"/>
<rect x="563.53" y="108.45" width="2.4" height="2.4"/>
<rect x="566.1" y="108.62" width="2.4" height="2.4"/>
<rect x="554.51" y="110.19" width="2.4" height="2.4"/>
<rect x="556.54" y="110.6" width="2.4" height="2.4"/>
<rect x="558.35" y="110.14" width="2.4" height="2.4"/>
<rect x="560.29" y="110.31" width="2.4" height="2.4"/>
<rect x="561.88" y="110.34" width="2.4" height="2.4"/>
<rect x="563.55" y="110.17" width="2.4" height="2.4"/>
<rect x="566.19" y="110.29" width="2.4" height="2.4"/>
<rect x="554.19" y="111.99" width="2.4" height="2.4"/>
<rect x="556.01" y="111.81" width="2.4" height="2.4"/>
<rect x="558.16" y="112.16" width="2.4" height="2.4"/>
<rect x="561.84" y="112.05" width="2.4" height="2.4"/>
<rect x="563.94" y="112.55" width="2.4" height="2.4"/>
<rect x="566.14" y="112.27" width="2.4" height="2.4"/>
<rect x="556.69" y="113.99" width="2.4" height="2.4"/>
<rect x="560.09" y="114.42" width="2.4" height="2.4"/>
<rect x="561.81" y="113.72" width="2.4" height="2.4"/>
<rect x="563.71" y="114.26" width="2.4" height="2.4"/>
<rect x="565.72" y="113.86" width="2.4" height="2.4"/>
<rect x="554.69" y="116.12" width="2.4" height="2.4"/>
<rect x="556.49" y="116.37" width="2.4" height="2.4"/>
<rect x="557.86" y="116.25" width="2.4" height="2.4"/>
<rect x="559.97" y="115.71" width="2.4" height="2.4"/>
<rect x="562.03" y="116.3" width="2.4" height="2.4"/>
<rect x="564.24" y="115.77" width="2.4" height="2.4"/>
<rect x="566" y="116.12" width="2.4" height="2.4"/>
<rect x="556.23" y="117.54" width="2.4" height="2.4"/>
<rect x="555.97" y="119.52" width="2.4" height="2.4"/>
<rect x="558.41" y="119.47" width="2.4" height="2.4"/>
<rect x="556.51" y="121.92" width="2.4" height="2.4"/>
<rect x="561.22" y="118.09" width="2.6" height="2.6"/>
<rect x="561.98" y="118.41" width="2.6" height="2.6"/>
<rect x="564.25" y="118.2" width="2.6" height="2.6"/>
<rect x="565.55" y="118.55" width="2.6" height="2.6"/>
<rect x="562.39" y="119.74" width="2.6" height="2.6"/>
<rect x="563.02" y="119.62" width="2.6" height="2.6"/>
<rect x="564.99" y="119.4" width="2.6" height="2.6"/>
<rect x="560.97" y="120.46" width="2.6" height="2.6"/>
<rect x="561.89" y="120.79" width="2.6" height="2.6"/>
<rect x="563.52" y="120.52" width="2.6" height="2.6"/>
<rect x="564.25" y="120.65" width="2.6" height="2.6"/>
<rect x="561.1" y="121.58" width="2.6" height="2.6"/>
<rect x="563.19" y="121.56" width="2.6" height="2.6"/>
<rect x="557.21" y="126.6" width="2.6" height="2.6"/>
<rect x="556.19" y="127.91" width="2.6" height="2.6"/>
<rect x="557.55" y="127.68" width="2.6" height="2.6"/>
<rect x="555.97" y="129.11" width="2.6" height="2.6"/>
<rect x="565.43" y="142.07" width="2.6" height="2.6"/>
<rect x="559.92" y="143.49" width="2.6" height="2.6"/>
<rect x="561.8" y="142.8" width="2.6" height="2.6"/>
<rect x="562.41" y="143.04" width="2.6" height="2.6"/>
<rect x="564.05" y="142.82" width="2.6" height="2.6"/>
<rect x="565.1" y="142.79" width="2.6" height="2.6"/>
<rect x="566.3" y="143.43" width="2.6" height="2.6"/>
<rect x="557.01" y="144.49" width="2.6" height="2.6"/>
<rect x="557.64" y="144.11" width="2.6" height="2.6"/>
<rect x="558.73" y="144.31" width="2.6" height="2.6"/>
<rect x="560.35" y="144.19" width="2.6" height="2.6"/>
<rect x="561.65" y="144.42" width="2.6" height="2.6"/>
<rect x="562.74" y="144.45" width="2.6" height="2.6"/>
<rect x="564.2" y="144.47" width="2.6" height="2.6"/>
<rect x="564.95" y="144.24" width="2.6" height="2.6"/>
<rect x="566.21" y="144.21" width="2.6" height="2.6"/>
<rect x="556.3" y="145.59" width="2.6" height="2.6"/>
<rect x="557.7" y="145.59" width="2.6" height="2.6"/>
<rect x="558.89" y="145.26" width="2.6" height="2.6"/>
<rect x="560.57" y="145.73" width="2.6" height="2.6"/>
<rect x="561.14" y="145.66" width="2.6" height="2.6"/>
<rect x="562.82" y="145.54" width="2.6" height="2.6"/>
<rect x="564.28" y="145.1" width="2.6" height="2.6"/>
<rect x="556.89" y="146.6" width="2.6" height="2.6"/>
<rect x="557.81" y="146.72" width="2.6" height="2.6"/>
<rect x="559.24" y="146.56" width="2.6" height="2.6"/>
<rect x="614.32" y="70.09" width="2.6" height="2.6"/>
<rect x="615.11" y="70.07" width="2.6" height="2.6"/>
<rect x="614.4" y="71.16" width="2.6" height="2.6"/>
<rect x="615.18" y="71.24" width="2.6" height="2.6"/>
<rect x="612.41" y="71.96" width="2.6" height="2.6"/>
<rect x="613.65" y="71.94" width="2.6" height="2.6"/>
<rect x="615.02" y="72.06" width="2.6" height="2.6"/>
<rect x="611.83" y="73.49" width="2.6" height="2.6"/>
<rect x="612.44" y="73.35" width="2.6" height="2.6"/>
<rect x="614.17" y="73.24" width="2.6" height="2.6"/>
<rect x="609.26" y="74.94" width="2.6" height="2.6"/>
<rect x="610.78" y="74.77" width="2.6" height="2.6"/>
<rect x="611.73" y="74.46" width="2.6" height="2.6"/>
<rect x="613" y="74.5" width="2.6" height="2.6"/>
<rect x="608.07" y="75.77" width="2.6" height="2.6"/>
<rect x="609.47" y="75.73" width="2.6" height="2.6"/>
<rect x="610.71" y="75.75" width="2.6" height="2.6"/>
<rect x="611.61" y="76.06" width="2.6" height="2.6"/>
<rect x="608.22" y="76.69" width="2.6" height="2.6"/>
<rect x="608.86" y="77.25" width="2.6" height="2.6"/>
<rect x="610.07" y="77.2" width="2.6" height="2.6"/>
<rect x="608.4" y="78.45" width="2.6" height="2.6"/>
<rect x="608.92" y="78.07" width="2.6" height="2.6"/>
<rect x="618.17" y="76.69" width="2.4" height="2.4"/>
<rect x="614.84" y="78.38" width="2.4" height="2.4"/>
<rect x="616.59" y="78.62" width="2.4" height="2.4"/>
<rect x="618.45" y="78.51" width="2.4" height="2.4"/>
<rect x="619.5" y="78.5" width="2.4" height="2.4"/>
<rect x="612.9" y="80.54" width="2.4" height="2.4"/>
<rect x="614.74" y="80.44" width="2.4" height="2.4"/>
<rect x="616.12" y="80.57" width="2.4" height="2.4"/>
<rect x="618.43" y="80.07" width="2.4" height="2.4"/>
<rect x="619.53" y="80.53" width="2.4" height="2.4"/>
<rect x="609.16" y="82.37" width="2.4" height="2.4"/>
<rect x="610.82" y="81.7" width="2.4" height="2.4"/>
<rect x="612.48" y="82.32" width="2.4" height="2.4"/>
<rect x="614.39" y="82.12" width="2.4" height="2.4"/>
<rect x="616.4" y="81.77" width="2.4" height="2.4"/>
<rect x="617.96" y="82.32" width="2.4" height="2.4"/>
<rect x="609.25" y="83.91" width="2.4" height="2.4"/>
<rect x="611.14" y="83.47" width="2.4" height="2.4"/>
<rect x="613.03" y="83.74" width="2.4" height="2.4"/>
<rect x="614.29" y="84.06" width="2.4" height="2.4"/>
<rect x="616.69" y="84.2" width="2.4" height="2.4"/>
<rect x="618.12" y="83.63" width="2.4" height="2.4"/>
<rect x="609.34" y="85.84" width="2.4" height="2.4"/>
<rect x="611.13" y="85.22" width="2.4" height="2.4"/>
<rect x="612.67" y="85.86" width="2.4" height="2.4"/>
<rect x="616.43" y="85.92" width="2.4" height="2.4"/>
<rect x="618.46" y="85.68" width="2.4" height="2.4"/>
<rect x="619.72" y="85.51" width="2.4" height="2.4"/>
<rect x="609.58" y="87.14" width="2.4" height="2.4"/>
<rect x="611.15" y="86.98" width="2.4" height="2.4"/>
<rect x="613.08" y="87.38" width="2.4" height="2.4"/>
<rect x="614.23" y="87.31" width="2.4" height="2.4"/>
<rect x="616.47" y="87.01" width="2.4" height="2.4"/>
<rect x="617.98" y="87.2" width="2.4" height="2.4"/>
<rect x="619.58" y="87.04" width="2.4" height="2.4"/>
<rect x="609.65" y="89.03" width="2.4" height="2.4"/>
<rect x="610.78" y="89.35" width="2.4" height="2.4"/>
<rect x="612.85" y="89.08" width="2.4" height="2.4"/>
<rect x="614.57" y="88.78" width="2.4" height="2.4"/>
<rect x="616.36" y="88.94" width="2.4" height="2.4"/>
<rect x="618.02" y="88.81" width="2.4" height="2.4"/>
<rect x="619.64" y="89.35" width="2.4" height="2.4"/>
<rect x="607.91" y="90.41" width="2.4" height="2.4"/>
<rect x="609.34" y="91.03" width="2.4" height="2.4"/>
<rect x="611.25" y="90.58" width="2.4" height="2.4"/>
<rect x="614.51" y="90.81" width="2.4" height="2.4"/>
<rect x="616.66" y="90.47" width="2.4" height="2.4"/>
<rect x="617.89" y="90.88" width="2.4" height="2.4"/>
<rect x="609.74" y="92.18" width="2.4" height="2.4"/>
<rect x="611.25" y="92.8" width="2.4" height="2.4"/>
<rect x="613.1" y="92.52" width="2.4" height="2.4"/>
<rect x="614.21" y="92.9" width="2.4" height="2.4"/>
<rect x="616.28" y="92.22" width="2.4" height="2.4"/>
<rect x="618.29" y="92.69" width="2.4" height="2.4"/>
<rect x="619.73" y="92.26" width="2.4" height="2.4"/>
<rect x="607.38" y="94.16" width="2.4" height="2.4"/>
<rect x="609.75" y="94.53" width="2.4" height="2.4"/>
<rect x="611.1" y="94.52" width="2.4" height="2.4"/>
<rect x="613.05" y="94.41" width="2.4" height="2.4"/>
<rect x="614.7" y="94.58" width="2.4" height="2.4"/>
<rect x="616.02" y="94.47" width="2.4" height="2.4"/>
<rect x="617.83" y="94.67" width="2.4" height="2.4"/>
<rect x="607.86" y="96.4" width="2.4" height="2.4"/>
<rect x="609.55" y="96.32" width="2.4" height="2.4"/>
<rect x="611.17" y="96" width="2.4" height="2.4"/>
<rect x="613.08" y="96.35" width="2.4" height="2.4"/>
<rect x="617.9" y="96.32" width="2.4" height="2.4"/>
<rect x="619.61" y="96.02" width="2.4" height="2.4"/>
<rect x="607.59" y="98.13" width="2.4" height="2.4"/>
<rect x="609.52" y="97.71" width="2.4" height="2.4"/>
<rect x="613.11" y="97.72" width="2.4" height="2.4"/>
<rect x="614.72" y="98.07" width="2.4" height="2.4"/>
<rect x="616.43" y="98.07" width="2.4" height="2.4"/>
<rect x="619.54" y="98.05" width="2.4" height="2.4"/>
<rect x="607.68" y="99.52" width="2.4" height="2.4"/>
<rect x="609.12" y="99.43" width="2.4" height="2.4"/>
<rect x="612.67" y="99.71" width="2.4" height="2.4"/>
<rect x="614.73" y="99.8" width="2.4" height="2.4"/>
<rect x="616.5" y="99.18" width="2.4" height="2.4"/>
<rect x="617.85" y="99.37" width="2.4" height="2.4"/>
<rect x="619.74" y="99.33" width="2.4" height="2.4"/>
<rect x="607.69" y="101.62" width="2.4" height="2.4"/>
<rect x="609.35" y="101.66" width="2.4" height="2.4"/>
<rect x="611.49" y="101.05" width="2.4" height="2.4"/>
<rect x="614.34" y="101.66" width="2.4" height="2.4"/>
<rect x="616.6" y="101.1" width="2.4" height="2.4"/>
<rect x="617.78" y="101.34" width="2.4" height="2.4"/>
<rect x="607.94" y="103.37" width="2.4" height="2.4"/>
<rect x="609.01" y="103.15" width="2.4" height="2.4"/>
<rect x="611.47" y="102.94" width="2.4" height="2.4"/>
<rect x="612.96" y="102.95" width="2.4" height="2.4"/>
<rect x="614.74" y="103.38" width="2.4" height="2.4"/>
<rect x="616.24" y="103.43" width="2.4" height="2.4"/>
<rect x="618.37" y="103.2" width="2.4" height="2.4"/>
<rect x="619.81" y="103.25" width="2.4" height="2.4"/>
<rect x="609.21" y="104.51" width="2.4" height="2.4"/>
<rect x="611.41" y="104.52" width="2.4" height="2.4"/>
<rect x="612.91" y="104.44" width="2.4" height="2.4"/>
<rect x="614.8" y="104.91" width="2.4" height="2.4"/>
<rect x="616.56" y="104.63" width="2.4" height="2.4"/>
<rect x="618.04" y="105.18" width="2.4" height="2.4"/>
<rect x="607.5" y="106.92" width="2.4" height="2.4"/>
<rect x="609.5" y="106.37" width="2.4" height="2.4"/>
<rect x="611.16" y="106.81" width="2.4" height="2.4"/>
<rect x="612.73" y="106.26" width="2.4" height="2.4"/>
<rect x="614.9" y="106.28" width="2.4" height="2.4"/>
<rect x="616.09" y="106.4" width="2.4" height="2.4"/>
<rect x="617.94" y="106.46" width="2.4" height="2.4"/>
<rect x="607.45" y="108.65" width="2.4" height="2.4"/>
<rect x="609.21" y="108.25" width="2.4" height="2.4"/>
<rect x="610.91" y="108.22" width="2.4" height="2.4"/>
<rect x="613.22" y="108.11" width="2.4" height="2.4"/>
<rect x="614.93" y="108.26" width="2.4" height="2.4"/>
<rect x="616.46" y="108.52" width="2.4" height="2.4"/>
<rect x="617.82" y="108.51" width="2.4" height="2.4"/>
<rect x="607.8" y="109.87" width="2.4" height="2.4"/>
<rect x="609.68" y="110.07" width="2.4" height="2.4"/>
<rect x="611.2" y="109.86" width="2.4" height="2.4"/>
<rect x="612.48" y="110.31" width="2.4" height="2.4"/>
<rect x="614.48" y="110.4" width="2.4" height="2.4"/>
<rect x="616.14" y="109.71" width="2.4" height="2.4"/>
<rect x="609.47" y="112.17" width="2.4" height="2.4"/>
<rect x="611.25" y="112.02" width="2.4" height="2.4"/>
<rect x="613.2" y="111.99" width="2.4" height="2.4"/>
<rect x="614.51" y="112.04" width="2.4" height="2.4"/>
<rect x="609" y="113.48" width="2.4" height="2.4"/>
<rect x="611.38" y="113.68" width="2.4" height="2.4"/>
<rect x="612.77" y="113.61" width="2.4" height="2.4"/>
<rect x="665.46" y="52.67" width="2.4" height="2.4"/>
<rect x="667" y="52.5" width="2.4" height="2.4"/>
<rect x="668.82" y="52.05" width="2.4" height="2.4"/>
<rect x="670.64" y="52.65" width="2.4" height="2.4"/>
<rect x="672.46" y="52.09" width="2.4" height="2.4"/>
<rect x="665.57" y="54.27" width="2.4" height="2.4"/>
<rect x="667.43" y="53.62" width="2.4" height="2.4"/>
<rect x="668.62" y="54" width="2.4" height="2.4"/>
<rect x="670.25" y="54.1" width="2.4" height="2.4"/>
<rect x="672.27" y="53.92" width="2.4" height="2.4"/>
<rect x="664.44" y="55.97" width="2.4" height="2.4"/>
<rect x="666.19" y="55.26" width="2.4" height="2.4"/>
<rect x="667.11" y="55.56" width="2.4" height="2.4"/>
<rect x="669.17" y="55.56" width="2.4" height="2.4"/>
<rect x="670.35" y="55.52" width="2.4" height="2.4"/>
<rect x="671.96" y="55.79" width="2.4" height="2.4"/>
<rect x="662.76" y="56.96" width="2.4" height="2.4"/>
<rect x="664.25" y="57.36" width="2.4" height="2.4"/>
<rect x="666" y="57.56" width="2.4" height="2.4"/>
<rect x="667.58" y="57.38" width="2.4" height="2.4"/>
<rect x="668.76" y="56.81" width="2.4" height="2.4"/>
<rect x="670.78" y="57.3" width="2.4" height="2.4"/>
<rect x="672.08" y="56.93" width="2.4" height="2.4"/>
<rect x="662.24" y="58.54" width="2.4" height="2.4"/>
<rect x="664.52" y="59.04" width="2.4" height="2.4"/>
<rect x="665.48" y="58.49" width="2.4" height="2.4"/>
<rect x="667.62" y="58.78" width="2.4" height="2.4"/>
<rect x="669.33" y="59.04" width="2.4" height="2.4"/>
<rect x="670.86" y="58.5" width="2.4" height="2.4"/>
<rect x="672.25" y="58.81" width="2.4" height="2.4"/>
<rect x="662.93" y="60.57" width="2.4" height="2.4"/>
<rect x="664.58" y="60.35" width="2.4" height="2.4"/>
<rect x="665.71" y="60.65" width="2.4" height="2.4"/>
<rect x="667.11" y="60.01" width="2.4" height="2.4"/>
<rect x="670.86" y="60.63" width="2.4" height="2.4"/>
<rect x="671.83" y="60.71" width="2.4" height="2.4"/>
<rect x="662.7" y="62.31" width="2.4" height="2.4"/>
<rect x="664.31" y="61.76" width="2.4" height="2.4"/>
<rect x="666.12" y="61.91" width="2.4" height="2.4"/>
<rect x="667.47" y="61.7" width="2.4" height="2.4"/>
<rect x="668.97" y="62.07" width="2.4" height="2.4"/>
<rect x="670.77" y="61.95" width="2.4" height="2.4"/>
<rect x="672.38" y="61.64" width="2.4" height="2.4"/>
<rect x="662.77" y="63.39" width="2.4" height="2.4"/>
<rect x="664.35" y="63.58" width="2.4" height="2.4"/>
<rect x="666.13" y="63.68" width="2.4" height="2.4"/>
<rect x="667.19" y="63.99" width="2.4" height="2.4"/>
<rect x="668.91" y="63.83" width="2.4" height="2.4"/>
<rect x="670.71" y="63.79" width="2.4" height="2.4"/>
<rect x="671.88" y="63.98" width="2.4" height="2.4"/>
<rect x="662.39" y="65.54" width="2.4" height="2.4"/>
<rect x="664.34" y="65.54" width="2.4" height="2.4"/>
<rect x="666.14" y="65.01" width="2.4" height="2.4"/>
<rect x="667.01" y="65.41" width="2.4" height="2.4"/>
<rect x="669.38" y="65.37" width="2.4" height="2.4"/>
<rect x="670.85" y="64.93" width="2.4" height="2.4"/>
<rect x="671.88" y="65.43" width="2.4" height="2.4"/>
<rect x="661.33" y="66.4" width="2.4" height="2.4"/>
<rect x="662.64" y="67.06" width="2.4" height="2.4"/>
<rect x="664.3" y="66.88" width="2.4" height="2.4"/>
<rect x="665.46" y="66.44" width="2.4" height="2.4"/>
<rect x="669.2" y="66.42" width="2.4" height="2.4"/>
<rect x="670.85" y="66.77" width="2.4" height="2.4"/>
<rect x="672.32" y="66.57" width="2.4" height="2.4"/>
<rect x="662.64" y="68.28" width="2.4" height="2.4"/>
<rect x="664.38" y="68.68" width="2.4" height="2.4"/>
<rect x="665.48" y="68.29" width="2.4" height="2.4"/>
<rect x="667.61" y="68.12" width="2.4" height="2.4"/>
<rect x="670.26" y="68.09" width="2.4" height="2.4"/>
<rect x="672.28" y="68.42" width="2.4" height="2.4"/>
<rect x="660.93" y="70.09" width="2.4" height="2.4"/>
<rect x="662.93" y="70.19" width="2.4" height="2.4"/>
<rect x="664.53" y="70.27" width="2.4" height="2.4"/>
<rect x="665.42" y="70.14" width="2.4" height="2.4"/>
<rect x="667.34" y="70.3" width="2.4" height="2.4"/>
<rect x="669.35" y="69.95" width="2.4" height="2.4"/>
<rect x="670.4" y="69.84" width="2.4" height="2.4"/>
<rect x="672.06" y="69.68" width="2.4" height="2.4"/>
<rect x="661.38" y="71.72" width="2.4" height="2.4"/>
<rect x="662.81" y="71.87" width="2.4" height="2.4"/>
<rect x="664.4" y="71.42" width="2.4" height="2.4"/>
<rect x="665.73" y="71.22" width="2.4" height="2.4"/>
<rect x="667.71" y="71.94" width="2.4" height="2.4"/>
<rect x="669.22" y="71.82" width="2.4" height="2.4"/>
<rect x="670.84" y="71.63" width="2.4" height="2.4"/>
<rect x="672.46" y="71.45" width="2.4" height="2.4"/>
<rect x="660.89" y="73.23" width="2.4" height="2.4"/>
<rect x="662.33" y="73.22" width="2.4" height="2.4"/>
<rect x="664.23" y="73.55" width="2.4" height="2.4"/>
<rect x="666.13" y="73.35" width="2.4" height="2.4"/>
<rect x="667.07" y="72.97" width="2.4" height="2.4"/>
<rect x="669.33" y="72.81" width="2.4" height="2.4"/>
<rect x="670.77" y="73.59" width="2.4" height="2.4"/>
<rect x="672.15" y="73.35" width="2.4" height="2.4"/>
<rect x="661.2" y="75" width="2.4" height="2.4"/>
<rect x="662.41" y="74.42" width="2.4" height="2.4"/>
<rect x="663.97" y="74.61" width="2.4" height="2.4"/>
<rect x="665.91" y="74.87" width="2.4" height="2.4"/>
<rect x="667.48" y="74.96" width="2.4" height="2.4"/>
<rect x="670.49" y="74.51" width="2.4" height="2.4"/>
<rect x="672.19" y="75.18" width="2.4" height="2.4"/>
<rect x="660.82" y="76.62" width="2.4" height="2.4"/>
<rect x="662.28" y="76.24" width="2.4" height="2.4"/>
<rect x="664.35" y="76.36" width="2.4" height="2.4"/>
<rect x="665.48" y="76.75" width="2.4" height="2.4"/>
<rect x="667.67" y="76.02" width="2.4" height="2.4"/>
<rect x="668.78" y="76.68" width="2.4" height="2.4"/>
<rect x="671.95" y="76.72" width="2.4" height="2.4"/>
<rect x="661.13" y="78.07" width="2.4" height="2.4"/>
<rect x="662.34" y="77.71" width="2.4" height="2.4"/>
<rect x="664.59" y="77.91" width="2.4" height="2.4"/>
<rect x="665.86" y="77.78" width="2.4" height="2.4"/>
<rect x="667.01" y="78.28" width="2.4" height="2.4"/>
<rect x="669.37" y="77.89" width="2.4" height="2.4"/>
<rect x="670.31" y="78.23" width="2.4" height="2.4"/>
<rect x="672.09" y="78.02" width="2.4" height="2.4"/>
<rect x="660.8" y="79.84" width="2.4" height="2.4"/>
<rect x="662.5" y="79.81" width="2.4" height="2.4"/>
<rect x="663.96" y="79.38" width="2.4" height="2.4"/>
<rect x="665.69" y="79.71" width="2.4" height="2.4"/>
<rect x="667.7" y="79.24" width="2.4" height="2.4"/>
<rect x="669.27" y="79.39" width="2.4" height="2.4"/>
<rect x="670.55" y="79.29" width="2.4" height="2.4"/>
<rect x="672.37" y="79.27" width="2.4" height="2.4"/>
<rect x="660.98" y="80.94" width="2.4" height="2.4"/>
<rect x="662.55" y="80.89" width="2.4" height="2.4"/>
<rect x="664.09" y="81.18" width="2.4" height="2.4"/>
<rect x="665.84" y="80.86" width="2.4" height="2.4"/>
<rect x="667.6" y="81.25" width="2.4" height="2.4"/>
<rect x="669.37" y="81.49" width="2.4" height="2.4"/>
<rect x="670.95" y="81.22" width="2.4" height="2.4"/>
<rect x="671.94" y="81.49" width="2.4" height="2.4"/>
<rect x="662.94" y="82.77" width="2.4" height="2.4"/>
<rect x="663.86" y="82.76" width="2.4" height="2.4"/>
<rect x="665.56" y="82.93" width="2.4" height="2.4"/>
<rect x="667.1" y="83.19" width="2.4" height="2.4"/>
<rect x="668.74" y="82.41" width="2.4" height="2.4"/>
<rect x="670.61" y="82.42" width="2.4" height="2.4"/>
<rect x="672.39" y="82.83" width="2.4" height="2.4"/>
<rect x="661" y="84.48" width="2.4" height="2.4"/>
<rect x="662.32" y="84.64" width="2.4" height="2.4"/>
<rect x="664.39" y="84.69" width="2.4" height="2.4"/>
<rect x="666.12" y="84.15" width="2.4" height="2.4"/>
<rect x="667.48" y="84.72" width="2.4" height="2.4"/>
<rect x="668.77" y="84.03" width="2.4" height="2.4"/>
<rect x="670.31" y="84.15" width="2.4" height="2.4"/>
<rect x="672.27" y="84.75" width="2.4" height="2.4"/>
<rect x="661.14" y="85.61" width="2.4" height="2.4"/>
<rect x="662.39" y="85.98" width="2.4" height="2.4"/>
<rect x="664.56" y="85.99" width="2.4" height="2.4"/>
<rect x="665.9" y="85.77" width="2.4" height="2.4"/>
<rect x="667.16" y="86.4" width="2.4" height="2.4"/>
<rect x="668.78" y="86.37" width="2.4" height="2.4"/>
<rect x="670.53" y="85.87" width="2.4" height="2.4"/>
<rect x="671.82" y="85.9" width="2.4" height="2.4"/>
<rect x="661.26" y="87.2" width="2.4" height="2.4"/>
<rect x="662.41" y="87.56" width="2.4" height="2.4"/>
<rect x="664.37" y="87.31" width="2.4" height="2.4"/>
<rect x="665.5" y="87.97" width="2.4" height="2.4"/>
<rect x="667.11" y="87.62" width="2.4" height="2.4"/>
<rect x="669.31" y="87.25" width="2.4" height="2.4"/>
<rect x="670.33" y="87.67" width="2.4" height="2.4"/>
<rect x="672.13" y="87.91" width="2.4" height="2.4"/>
<rect x="661.29" y="89.57" width="2.4" height="2.4"/>
<rect x="662.95" y="89.13" width="2.4" height="2.4"/>
<rect x="665.63" y="89.03" width="2.4" height="2.4"/>
<rect x="667.7" y="89.14" width="2.4" height="2.4"/>
<rect x="669.28" y="89.45" width="2.4" height="2.4"/>
<rect x="670.61" y="88.89" width="2.4" height="2.4"/>
<rect x="672.33" y="89.27" width="2.4" height="2.4"/>
<rect x="661.32" y="91.17" width="2.4" height="2.4"/>
<rect x="662.26" y="91.12" width="2.4" height="2.4"/>
<rect x="663.95" y="90.95" width="2.4" height="2.4"/>
<rect x="665.59" y="90.69" width="2.4" height="2.4"/>
<rect x="667.54" y="90.46" width="2.4" height="2.4"/>
<rect x="669.1" y="90.78" width="2.4" height="2.4"/>
<rect x="670.84" y="90.41" width="2.4" height="2.4"/>
<rect x="672.34" y="90.97" width="2.4" height="2.4"/>
<rect x="662.83" y="92.19" width="2.4" height="2.4"/>
<rect x="664.57" y="92.17" width="2.4" height="2.4"/>
<rect x="666.17" y="92.72" width="2.4" height="2.4"/>
<rect x="667.59" y="92.29" width="2.4" height="2.4"/>
<rect x="669.21" y="92.1" width="2.4" height="2.4"/>
<rect x="670.37" y="92.21" width="2.4" height="2.4"/>
<rect x="671.91" y="92.32" width="2.4" height="2.4"/>
<rect x="662.95" y="94.06" width="2.4" height="2.4"/>
<rect x="664.36" y="93.95" width="2.4" height="2.4"/>
<rect x="665.79" y="93.61" width="2.4" height="2.4"/>
<rect x="667.13" y="93.9" width="2.4" height="2.4"/>
<rect x="660.76" y="95.81" width="2.4" height="2.4"/>
<rect x="662.4" y="95.86" width="2.4" height="2.4"/>
<rect x="664.48" y="95.9" width="2.4" height="2.4"/>
<rect x="665.56" y="95.21" width="2.4" height="2.4"/>
<rect x="660.81" y="97.37" width="2.4" height="2.4"/>
<rect x="662.22" y="96.89" width="2.4" height="2.4"/>
<rect x="664.58" y="96.92" width="2.4" height="2.4"/>
<rect x="719.77" y="62.94" width="2.4" height="2.4"/>
<rect x="721.28" y="62.37" width="2.4" height="2.4"/>
<rect x="725.37" y="62.39" width="2.4" height="2.4"/>
<rect x="719.78" y="64.38" width="2.4" height="2.4"/>
<rect x="721.61" y="64.75" width="2.4" height="2.4"/>
<rect x="723.72" y="64.36" width="2.4" height="2.4"/>
<rect x="718.07" y="66.74" width="2.4" height="2.4"/>
<rect x="723.41" y="66.22" width="2.4" height="2.4"/>
<rect x="717.87" y="68.42" width="2.4" height="2.4"/>
<rect x="719.28" y="68.06" width="2.4" height="2.4"/>
<rect x="721.49" y="68.2" width="2.4" height="2.4"/>
<rect x="723.18" y="68.25" width="2.4" height="2.4"/>
<rect x="725.47" y="68.62" width="2.4" height="2.4"/>
<rect x="717.38" y="70.26" width="2.4" height="2.4"/>
<rect x="719.42" y="69.93" width="2.4" height="2.4"/>
<rect x="721.83" y="70" width="2.4" height="2.4"/>
<rect x="725.5" y="70.52" width="2.4" height="2.4"/>
<rect x="717.34" y="72.03" width="2.4" height="2.4"/>
<rect x="721.23" y="72.23" width="2.4" height="2.4"/>
<rect x="723.14" y="71.94" width="2.4" height="2.4"/>
<rect x="717.89" y="74.41" width="2.4" height="2.4"/>
<rect x="719.58" y="74.47" width="2.4" height="2.4"/>
<rect x="721.33" y="74.07" width="2.4" height="2.4"/>
<rect x="725.67" y="73.79" width="2.4" height="2.4"/>
<rect x="718.09" y="75.72" width="2.4" height="2.4"/>
<rect x="719.46" y="75.74" width="2.4" height="2.4"/>
<rect x="721.37" y="75.75" width="2.4" height="2.4"/>
<rect x="723.66" y="76.29" width="2.4" height="2.4"/>
<rect x="724.91" y="76.21" width="2.4" height="2.4"/>
<rect x="717.96" y="77.71" width="2.4" height="2.4"/>
<rect x="719.5" y="77.78" width="2.4" height="2.4"/>
<rect x="721.19" y="77.68" width="2.4" height="2.4"/>
<rect x="723.33" y="78.01" width="2.4" height="2.4"/>
<rect x="725.5" y="77.7" width="2.4" height="2.4"/>
<rect x="717.95" y="79.6" width="2.4" height="2.4"/>
<rect x="721.53" y="79.67" width="2.4" height="2.4"/>
<rect x="723.28" y="80.08" width="2.4" height="2.4"/>
<rect x="718" y="81.74" width="2.4" height="2.4"/>
<rect x="719.47" y="81.93" width="2.4" height="2.4"/>
<rect x="721.8" y="81.47" width="2.4" height="2.4"/>
<rect x="723.2" y="81.38" width="2.4" height="2.4"/>
<rect x="717.67" y="83.52" width="2.4" height="2.4"/>
<rect x="719.96" y="83.45" width="2.4" height="2.4"/>
<rect x="721.82" y="83.58" width="2.4" height="2.4"/>
<rect x="723.59" y="83.45" width="2.4" height="2.4"/>
<rect x="715.81" y="85.49" width="2.4" height="2.4"/>
<rect x="719.49" y="85.39" width="2.4" height="2.4"/>
<rect x="721.66" y="85.2" width="2.4" height="2.4"/>
<rect x="723.03" y="85.57" width="2.4" height="2.4"/>
<rect x="716.06" y="87.63" width="2.4" height="2.4"/>
<rect x="717.48" y="87.6" width="2.4" height="2.4"/>
<rect x="719.38" y="87.71" width="2.4" height="2.4"/>
<rect x="721.45" y="87.3" width="2.4" height="2.4"/>
<rect x="714.09" y="89.05" width="2.4" height="2.4"/>
<rect x="718.07" y="89.7" width="2.4" height="2.4"/>
<rect x="719.84" y="89.05" width="2.4" height="2.4"/>
<rect x="721.54" y="89.51" width="2.4" height="2.4"/>
<rect x="713.9" y="91.52" width="2.4" height="2.4"/>
<rect x="716.16" y="91.21" width="2.4" height="2.4"/>
<rect x="717.75" y="90.91" width="2.4" height="2.4"/>
<rect x="719.84" y="91.14" width="2.4" height="2.4"/>
<rect x="721.31" y="91.02" width="2.4" height="2.4"/>
<rect x="713.77" y="93.27" width="2.4" height="2.4"/>
<rect x="715.59" y="92.9" width="2.4" height="2.4"/>
<rect x="717.44" y="93.18" width="2.4" height="2.4"/>
<rect x="719.36" y="93.17" width="2.4" height="2.4"/>
<rect x="721.7" y="93.27" width="2.4" height="2.4"/>
<rect x="715.46" y="95.24" width="2.4" height="2.4"/>
<rect x="717.41" y="94.97" width="2.4" height="2.4"/>
<rect x="720" y="94.87" width="2.4" height="2.4"/>
<rect x="717.68" y="96.85" width="2.4" height="2.4"/>
<rect x="719.59" y="97.26" width="2.4" height="2.4"/>
<rect x="715.74" y="98.68" width="2.4" height="2.4"/>
<rect x="717.61" y="98.52" width="2.4" height="2.4"/>
<rect x="719.66" y="98.41" width="2.4" height="2.4"/>
<rect x="715.93" y="100.89" width="2.4" height="2.4"/>
<rect x="717.42" y="100.59" width="2.4" height="2.4"/>
<rect x="719.83" y="100.77" width="2.4" height="2.4"/>
<rect x="725.1" y="56.9" width="3.0" height="3.0"/>
<rect x="714.7" y="64.5" width="3.0" height="3.0"/>
<rect x="713.8" y="65.3" width="3.0" height="3.0"/>
<rect x="724.1" y="97.3" width="3.0" height="3.0"/>
<rect x="716.7" y="104.3" width="3.0" height="3.0"/>
<rect x="126.14" y="315.31" width="2.6" height="2.6"/>
<rect x="126.87" y="315.11" width="2.6" height="2.6"/>
<rect x="124.47" y="316.66" width="2.6" height="2.6"/>
<rect x="125.95" y="316.02" width="2.6" height="2.6"/>
<rect x="126.65" y="316.64" width="2.6" height="2.6"/>
<rect x="123.76" y="317.64" width="2.6" height="2.6"/>
<rect x="124.27" y="317.94" width="2.6" height="2.6"/>
<rect x="125.55" y="317.8" width="2.6" height="2.6"/>
<rect x="123.1" y="318.42" width="2.6" height="2.6"/>
<rect x="124.7" y="318.49" width="2.6" height="2.6"/>
<rect x="120.95" y="319.91" width="2.6" height="2.6"/>
<rect x="121.99" y="320.38" width="2.6" height="2.6"/>
<rect x="123.56" y="319.74" width="2.6" height="2.6"/>
<rect x="121.23" y="321.26" width="2.6" height="2.6"/>
<rect x="177.43" y="261.36" width="2.4" height="2.4"/>
<rect x="179.25" y="260.95" width="2.4" height="2.4"/>
<rect x="180.81" y="261.19" width="2.4" height="2.4"/>
<rect x="175.51" y="262.72" width="2.4" height="2.4"/>
<rect x="177.26" y="263.33" width="2.4" height="2.4"/>
<rect x="179.04" y="263.35" width="2.4" height="2.4"/>
<rect x="181.22" y="262.68" width="2.4" height="2.4"/>
<rect x="173.21" y="265.08" width="2.4" height="2.4"/>
<rect x="174.98" y="264.9" width="2.4" height="2.4"/>
<rect x="176.97" y="265.02" width="2.4" height="2.4"/>
<rect x="179" y="265.24" width="2.4" height="2.4"/>
<rect x="181.4" y="264.84" width="2.4" height="2.4"/>
<rect x="173.32" y="267.16" width="2.4" height="2.4"/>
<rect x="174.99" y="267" width="2.4" height="2.4"/>
<rect x="177.34" y="266.44" width="2.4" height="2.4"/>
<rect x="179.13" y="266.99" width="2.4" height="2.4"/>
<rect x="181.11" y="266.7" width="2.4" height="2.4"/>
<rect x="171.48" y="268.37" width="2.4" height="2.4"/>
<rect x="173.71" y="268.33" width="2.4" height="2.4"/>
<rect x="175.28" y="268.87" width="2.4" height="2.4"/>
<rect x="177.07" y="269.05" width="2.4" height="2.4"/>
<rect x="178.81" y="268.95" width="2.4" height="2.4"/>
<rect x="180.75" y="268.7" width="2.4" height="2.4"/>
<rect x="171.48" y="270.83" width="2.4" height="2.4"/>
<rect x="173.73" y="270.38" width="2.4" height="2.4"/>
<rect x="177.3" y="270.63" width="2.4" height="2.4"/>
<rect x="179.05" y="270.28" width="2.4" height="2.4"/>
<rect x="181.24" y="270.75" width="2.4" height="2.4"/>
<rect x="171.76" y="272.87" width="2.4" height="2.4"/>
<rect x="173.13" y="272.65" width="2.4" height="2.4"/>
<rect x="175.22" y="272.23" width="2.4" height="2.4"/>
<rect x="177.18" y="272.49" width="2.4" height="2.4"/>
<rect x="178.99" y="272.54" width="2.4" height="2.4"/>
<rect x="181.07" y="272.23" width="2.4" height="2.4"/>
<rect x="171.89" y="274.11" width="2.4" height="2.4"/>
<rect x="173.77" y="274.31" width="2.4" height="2.4"/>
<rect x="175.15" y="274.02" width="2.4" height="2.4"/>
<rect x="179.15" y="274.76" width="2.4" height="2.4"/>
<rect x="180.89" y="274.76" width="2.4" height="2.4"/>
<rect x="171.64" y="276.19" width="2.4" height="2.4"/>
<rect x="173.24" y="276.68" width="2.4" height="2.4"/>
<rect x="177.24" y="276.06" width="2.4" height="2.4"/>
<rect x="178.79" y="276.57" width="2.4" height="2.4"/>
<rect x="181.15" y="276.64" width="2.4" height="2.4"/>
<rect x="171.1" y="277.84" width="2.4" height="2.4"/>
<rect x="173.78" y="278.05" width="2.4" height="2.4"/>
<rect x="174.91" y="278.13" width="2.4" height="2.4"/>
<rect x="178.86" y="277.94" width="2.4" height="2.4"/>
<rect x="180.68" y="278.55" width="2.4" height="2.4"/>
<rect x="169.9" y="280.11" width="2.4" height="2.4"/>
<rect x="171.87" y="280.02" width="2.4" height="2.4"/>
<rect x="173.05" y="280.36" width="2.4" height="2.4"/>
<rect x="176.92" y="279.99" width="2.4" height="2.4"/>
<rect x="179.46" y="280.5" width="2.4" height="2.4"/>
<rect x="181.1" y="280.22" width="2.4" height="2.4"/>
<rect x="169.78" y="282.04" width="2.4" height="2.4"/>
<rect x="171.82" y="281.8" width="2.4" height="2.4"/>
<rect x="173.13" y="281.72" width="2.4" height="2.4"/>
<rect x="175.54" y="281.73" width="2.4" height="2.4"/>
<rect x="177.26" y="282.05" width="2.4" height="2.4"/>
<rect x="180.94" y="281.79" width="2.4" height="2.4"/>
<rect x="169.39" y="284.16" width="2.4" height="2.4"/>
<rect x="171.17" y="283.88" width="2.4" height="2.4"/>
<rect x="173.27" y="284.11" width="2.4" height="2.4"/>
<rect x="175.44" y="284.17" width="2.4" height="2.4"/>
<rect x="177.2" y="284.24" width="2.4" height="2.4"/>
<rect x="178.84" y="283.56" width="2.4" height="2.4"/>
<rect x="180.87" y="283.57" width="2.4" height="2.4"/>
<rect x="169.54" y="285.65" width="2.4" height="2.4"/>
<rect x="171.85" y="285.6" width="2.4" height="2.4"/>
<rect x="175.46" y="285.74" width="2.4" height="2.4"/>
<rect x="176.84" y="285.5" width="2.4" height="2.4"/>
<rect x="179.22" y="285.53" width="2.4" height="2.4"/>
<rect x="180.65" y="285.81" width="2.4" height="2.4"/>
<rect x="171.67" y="287.71" width="2.4" height="2.4"/>
<rect x="173.54" y="287.65" width="2.4" height="2.4"/>
<rect x="176.98" y="287.62" width="2.4" height="2.4"/>
<rect x="178.77" y="287.85" width="2.4" height="2.4"/>
<rect x="180.87" y="287.51" width="2.4" height="2.4"/>
<rect x="169.38" y="289.52" width="2.4" height="2.4"/>
<rect x="171.44" y="289.32" width="2.4" height="2.4"/>
<rect x="173.43" y="289.99" width="2.4" height="2.4"/>
<rect x="174.98" y="289.6" width="2.4" height="2.4"/>
<rect x="176.96" y="289.74" width="2.4" height="2.4"/>
<rect x="179.35" y="289.43" width="2.4" height="2.4"/>
<rect x="181.25" y="289.58" width="2.4" height="2.4"/>
<rect x="169.59" y="291.2" width="2.4" height="2.4"/>
<rect x="171.66" y="291.56" width="2.4" height="2.4"/>
<rect x="173.04" y="291.67" width="2.4" height="2.4"/>
<rect x="177.27" y="291.68" width="2.4" height="2.4"/>
<rect x="179.26" y="291.39" width="2.4" height="2.4"/>
<rect x="180.82" y="291.88" width="2.4" height="2.4"/>
<rect x="171.68" y="293.69" width="2.4" height="2.4"/>
<rect x="173.12" y="293.7" width="2.4" height="2.4"/>
<rect x="174.99" y="293.3" width="2.4" height="2.4"/>
<rect x="176.8" y="293.03" width="2.4" height="2.4"/>
<rect x="179.4" y="293.8" width="2.4" height="2.4"/>
<rect x="181.33" y="293.63" width="2.4" height="2.4"/>
<rect x="169.67" y="295.68" width="2.4" height="2.4"/>
<rect x="171.86" y="295.35" width="2.4" height="2.4"/>
<rect x="173.41" y="295.29" width="2.4" height="2.4"/>
<rect x="175.2" y="295.31" width="2.4" height="2.4"/>
<rect x="176.98" y="295.12" width="2.4" height="2.4"/>
<rect x="179.1" y="295.24" width="2.4" height="2.4"/>
<rect x="180.75" y="295.33" width="2.4" height="2.4"/>
<rect x="169.82" y="297.36" width="2.4" height="2.4"/>
<rect x="171.51" y="297" width="2.4" height="2.4"/>
<rect x="173.41" y="297.1" width="2.4" height="2.4"/>
<rect x="175.22" y="297.37" width="2.4" height="2.4"/>
<rect x="177.19" y="297.38" width="2.4" height="2.4"/>
<rect x="179.06" y="297.09" width="2.4" height="2.4"/>
<rect x="169.79" y="298.87" width="2.4" height="2.4"/>
<rect x="171.73" y="299.22" width="2.4" height="2.4"/>
<rect x="169.47" y="300.69" width="2.4" height="2.4"/>
<rect x="171.69" y="300.99" width="2.4" height="2.4"/>
<rect x="173.22" y="300.99" width="2.4" height="2.4"/>
<rect x="177.97" y="299.98" width="2.6" height="2.6"/>
<rect x="176.85" y="300.82" width="2.6" height="2.6"/>
<rect x="177.9" y="300.52" width="2.6" height="2.6"/>
<rect x="179.2" y="300.51" width="2.6" height="2.6"/>
<rect x="175.84" y="302.2" width="2.6" height="2.6"/>
<rect x="176.52" y="302.24" width="2.6" height="2.6"/>
<rect x="177.94" y="301.86" width="2.6" height="2.6"/>
<rect x="179.63" y="301.89" width="2.6" height="2.6"/>
<rect x="177.02" y="303.38" width="2.6" height="2.6"/>
<rect x="177.8" y="303.07" width="2.6" height="2.6"/>
<rect x="176.09" y="304.29" width="2.6" height="2.6"/>
<rect x="176.69" y="304.57" width="2.6" height="2.6"/>
<rect x="171.7" y="307.98" width="2.6" height="2.6"/>
<rect x="170.82" y="309.67" width="2.6" height="2.6"/>
<rect x="171.71" y="309.64" width="2.6" height="2.6"/>
<rect x="177.19" y="324.83" width="2.6" height="2.6"/>
<rect x="178.56" y="324.56" width="2.6" height="2.6"/>
<rect x="179.77" y="324.63" width="2.6" height="2.6"/>
<rect x="180.99" y="324.62" width="2.6" height="2.6"/>
<rect x="172.49" y="326.13" width="2.6" height="2.6"/>
<rect x="174.17" y="325.8" width="2.6" height="2.6"/>
<rect x="174.72" y="325.68" width="2.6" height="2.6"/>
<rect x="176.45" y="326.04" width="2.6" height="2.6"/>
<rect x="177.48" y="325.66" width="2.6" height="2.6"/>
<rect x="178.82" y="326.06" width="2.6" height="2.6"/>
<rect x="180.02" y="325.61" width="2.6" height="2.6"/>
<rect x="180.84" y="325.91" width="2.6" height="2.6"/>
<rect x="170.34" y="326.81" width="2.6" height="2.6"/>
<rect x="171.59" y="326.81" width="2.6" height="2.6"/>
<rect x="172.84" y="327.14" width="2.6" height="2.6"/>
<rect x="174.12" y="327.16" width="2.6" height="2.6"/>
<rect x="175.05" y="327.36" width="2.6" height="2.6"/>
<rect x="176.5" y="326.99" width="2.6" height="2.6"/>
<rect x="178.82" y="326.79" width="2.6" height="2.6"/>
<rect x="171.24" y="328.56" width="2.6" height="2.6"/>
<rect x="172.31" y="328.61" width="2.6" height="2.6"/>
<rect x="230.84" y="250.04" width="2.6" height="2.6"/>
<rect x="228.36" y="251" width="2.6" height="2.6"/>
<rect x="229.22" y="250.98" width="2.6" height="2.6"/>
<rect x="226.78" y="252.59" width="2.6" height="2.6"/>
<rect x="228.02" y="252.42" width="2.6" height="2.6"/>
<rect x="229.63" y="252.38" width="2.6" height="2.6"/>
<rect x="230.73" y="252.16" width="2.6" height="2.6"/>
<rect x="224.61" y="253.59" width="2.6" height="2.6"/>
<rect x="225.76" y="253.37" width="2.6" height="2.6"/>
<rect x="226.5" y="253.84" width="2.6" height="2.6"/>
<rect x="228.36" y="253.64" width="2.6" height="2.6"/>
<rect x="229.4" y="253.3" width="2.6" height="2.6"/>
<rect x="222.33" y="254.94" width="2.6" height="2.6"/>
<rect x="223.25" y="254.94" width="2.6" height="2.6"/>
<rect x="224.25" y="254.48" width="2.6" height="2.6"/>
<rect x="225.71" y="254.52" width="2.6" height="2.6"/>
<rect x="227.19" y="254.71" width="2.6" height="2.6"/>
<rect x="222.1" y="256.27" width="2.6" height="2.6"/>
<rect x="223.64" y="255.76" width="2.6" height="2.6"/>
<rect x="224.71" y="256.06" width="2.6" height="2.6"/>
<rect x="225.47" y="256.22" width="2.6" height="2.6"/>
<rect x="222.25" y="256.92" width="2.6" height="2.6"/>
<rect x="223.49" y="256.88" width="2.6" height="2.6"/>
<rect x="224.8" y="256.84" width="2.6" height="2.6"/>
<rect x="229.41" y="258.32" width="2.4" height="2.4"/>
<rect x="230.75" y="257.89" width="2.4" height="2.4"/>
<rect x="232.98" y="257.81" width="2.4" height="2.4"/>
<rect x="227.69" y="259.63" width="2.4" height="2.4"/>
<rect x="229.14" y="259.84" width="2.4" height="2.4"/>
<rect x="230.74" y="259.98" width="2.4" height="2.4"/>
<rect x="233.15" y="259.42" width="2.4" height="2.4"/>
<rect x="223.98" y="261.25" width="2.4" height="2.4"/>
<rect x="225.64" y="261.92" width="2.4" height="2.4"/>
<rect x="227.5" y="261.33" width="2.4" height="2.4"/>
<rect x="229.16" y="261.67" width="2.4" height="2.4"/>
<rect x="230.96" y="261.75" width="2.4" height="2.4"/>
<rect x="232.49" y="261.18" width="2.4" height="2.4"/>
<rect x="223.87" y="263.02" width="2.4" height="2.4"/>
<rect x="225.74" y="263.65" width="2.4" height="2.4"/>
<rect x="227.34" y="263.35" width="2.4" height="2.4"/>
<rect x="228.93" y="263.26" width="2.4" height="2.4"/>
<rect x="230.89" y="263.37" width="2.4" height="2.4"/>
<rect x="232.45" y="263.64" width="2.4" height="2.4"/>
<rect x="225.52" y="264.83" width="2.4" height="2.4"/>
<rect x="227.22" y="264.81" width="2.4" height="2.4"/>
<rect x="229.01" y="265.31" width="2.4" height="2.4"/>
<rect x="230.85" y="264.84" width="2.4" height="2.4"/>
<rect x="232.44" y="265.24" width="2.4" height="2.4"/>
<rect x="222.38" y="267.09" width="2.4" height="2.4"/>
<rect x="223.7" y="266.95" width="2.4" height="2.4"/>
<rect x="225.98" y="266.62" width="2.4" height="2.4"/>
<rect x="227.3" y="266.75" width="2.4" height="2.4"/>
<rect x="229.37" y="266.64" width="2.4" height="2.4"/>
<rect x="231.16" y="266.47" width="2.4" height="2.4"/>
<rect x="232.8" y="266.58" width="2.4" height="2.4"/>
<rect x="222.48" y="268.45" width="2.4" height="2.4"/>
<rect x="224.36" y="268.37" width="2.4" height="2.4"/>
<rect x="226.11" y="268.94" width="2.4" height="2.4"/>
<rect x="227.36" y="268.8" width="2.4" height="2.4"/>
<rect x="229.06" y="268.95" width="2.4" height="2.4"/>
<rect x="231.3" y="268.6" width="2.4" height="2.4"/>
<rect x="233.09" y="268.29" width="2.4" height="2.4"/>
<rect x="222.27" y="270.47" width="2.4" height="2.4"/>
<rect x="224.18" y="269.98" width="2.4" height="2.4"/>
<rect x="225.92" y="270.45" width="2.4" height="2.4"/>
<rect x="227.3" y="270.67" width="2.4" height="2.4"/>
<rect x="229.24" y="270.2" width="2.4" height="2.4"/>
<rect x="231.24" y="270.42" width="2.4" height="2.4"/>
<rect x="232.86" y="270.31" width="2.4" height="2.4"/>
<rect x="222.52" y="272.44" width="2.4" height="2.4"/>
<rect x="224.32" y="271.84" width="2.4" height="2.4"/>
<rect x="225.97" y="272.4" width="2.4" height="2.4"/>
<rect x="227.85" y="271.86" width="2.4" height="2.4"/>
<rect x="229.28" y="271.9" width="2.4" height="2.4"/>
<rect x="231.29" y="272.32" width="2.4" height="2.4"/>
<rect x="232.94" y="271.79" width="2.4" height="2.4"/>
<rect x="222.17" y="273.48" width="2.4" height="2.4"/>
<rect x="224.22" y="273.58" width="2.4" height="2.4"/>
<rect x="225.66" y="274.08" width="2.4" height="2.4"/>
<rect x="233.17" y="273.58" width="2.4" height="2.4"/>
<rect x="234.17" y="273.48" width="2.4" height="2.4"/>
<rect x="222.37" y="275.55" width="2.4" height="2.4"/>
<rect x="223.88" y="275.93" width="2.4" height="2.4"/>
<rect x="226.19" y="275.86" width="2.4" height="2.4"/>
<rect x="227.83" y="275.17" width="2.4" height="2.4"/>
<rect x="229.55" y="275.71" width="2.4" height="2.4"/>
<rect x="231.3" y="275.27" width="2.4" height="2.4"/>
<rect x="232.61" y="275.47" width="2.4" height="2.4"/>
<rect x="222.52" y="277.4" width="2.4" height="2.4"/>
<rect x="224.39" y="277.55" width="2.4" height="2.4"/>
<rect x="225.66" y="277.64" width="2.4" height="2.4"/>
<rect x="227.23" y="277.17" width="2.4" height="2.4"/>
<rect x="229.65" y="277.42" width="2.4" height="2.4"/>
<rect x="231.4" y="277.52" width="2.4" height="2.4"/>
<rect x="232.77" y="277.51" width="2.4" height="2.4"/>
<rect x="234.24" y="277.4" width="2.4" height="2.4"/>
<rect x="222.1" y="279.2" width="2.4" height="2.4"/>
<rect x="223.75" y="278.76" width="2.4" height="2.4"/>
<rect x="225.67" y="279.41" width="2.4" height="2.4"/>
<rect x="227.51" y="279.28" width="2.4" height="2.4"/>
<rect x="229.04" y="279.43" width="2.4" height="2.4"/>
<rect x="232.78" y="278.98" width="2.4" height="2.4"/>
<rect x="222.52" y="280.87" width="2.4" height="2.4"/>
<rect x="223.89" y="280.79" width="2.4" height="2.4"/>
<rect x="225.92" y="280.8" width="2.4" height="2.4"/>
<rect x="227.64" y="281.2" width="2.4" height="2.4"/>
<rect x="229.17" y="280.41" width="2.4" height="2.4"/>
<rect x="230.69" y="280.74" width="2.4" height="2.4"/>
<rect x="232.96" y="281.17" width="2.4" height="2.4"/>
<rect x="223.86" y="282.65" width="2.4" height="2.4"/>
<rect x="225.83" y="282.45" width="2.4" height="2.4"/>
<rect x="227.47" y="282.23" width="2.4" height="2.4"/>
<rect x="229.54" y="282.63" width="2.4" height="2.4"/>
<rect x="231.13" y="282.85" width="2.4" height="2.4"/>
<rect x="233.01" y="282.19" width="2.4" height="2.4"/>
<rect x="222.64" y="284.56" width="2.4" height="2.4"/>
<rect x="223.85" y="284.36" width="2.4" height="2.4"/>
<rect x="225.64" y="284.51" width="2.4" height="2.4"/>
<rect x="227.42" y="284.33" width="2.4" height="2.4"/>
<rect x="229.35" y="284.63" width="2.4" height="2.4"/>
<rect x="231.44" y="283.92" width="2.4" height="2.4"/>
<rect x="232.84" y="284.48" width="2.4" height="2.4"/>
<rect x="222.41" y="286.08" width="2.4" height="2.4"/>
<rect x="224.41" y="285.66" width="2.4" height="2.4"/>
<rect x="226.1" y="285.7" width="2.4" height="2.4"/>
<rect x="227.17" y="286.17" width="2.4" height="2.4"/>
<rect x="229.09" y="285.95" width="2.4" height="2.4"/>
<rect x="231.21" y="286.07" width="2.4" height="2.4"/>
<rect x="232.66" y="286.12" width="2.4" height="2.4"/>
<rect x="222.1" y="287.81" width="2.4" height="2.4"/>
<rect x="223.93" y="288.04" width="2.4" height="2.4"/>
<rect x="225.85" y="288.02" width="2.4" height="2.4"/>
<rect x="227.16" y="287.62" width="2.4" height="2.4"/>
<rect x="229.65" y="287.53" width="2.4" height="2.4"/>
<rect x="230.97" y="287.84" width="2.4" height="2.4"/>
<rect x="232.45" y="287.66" width="2.4" height="2.4"/>
<rect x="234.26" y="287.64" width="2.4" height="2.4"/>
<rect x="222.36" y="289.25" width="2.4" height="2.4"/>
<rect x="224.06" y="289.26" width="2.4" height="2.4"/>
<rect x="226.06" y="289.32" width="2.4" height="2.4"/>
<rect x="229.59" y="289.81" width="2.4" height="2.4"/>
<rect x="231.26" y="289.77" width="2.4" height="2.4"/>
<rect x="233.07" y="289.94" width="2.4" height="2.4"/>
<rect x="224.2" y="291.58" width="2.4" height="2.4"/>
<rect x="225.62" y="291.1" width="2.4" height="2.4"/>
<rect x="227.26" y="291.59" width="2.4" height="2.4"/>
<rect x="229.09" y="291.46" width="2.4" height="2.4"/>
<rect x="230.75" y="291.52" width="2.4" height="2.4"/>
<rect x="232.65" y="290.98" width="2.4" height="2.4"/>
<rect x="222.55" y="292.78" width="2.4" height="2.4"/>
<rect x="223.93" y="293.35" width="2.4" height="2.4"/>
<rect x="225.46" y="293.25" width="2.4" height="2.4"/>
<rect x="227.68" y="292.72" width="2.4" height="2.4"/>
<rect x="229.43" y="293.35" width="2.4" height="2.4"/>
<rect x="231.01" y="292.67" width="2.4" height="2.4"/>
<rect x="223.75" y="294.71" width="2.4" height="2.4"/>
<rect x="227.32" y="294.66" width="2.4" height="2.4"/>
<rect x="282.39" y="229.98" width="2.4" height="2.4"/>
<rect x="283.87" y="230.31" width="2.4" height="2.4"/>
<rect x="284.9" y="230.11" width="2.4" height="2.4"/>
<rect x="280.72" y="231.94" width="2.4" height="2.4"/>
<rect x="282.37" y="231.31" width="2.4" height="2.4"/>
<rect x="283.71" y="231.9" width="2.4" height="2.4"/>
<rect x="285.59" y="231.22" width="2.4" height="2.4"/>
<rect x="287.06" y="231.5" width="2.4" height="2.4"/>
<rect x="280.58" y="232.87" width="2.4" height="2.4"/>
<rect x="281.78" y="233.1" width="2.4" height="2.4"/>
<rect x="283.66" y="233.51" width="2.4" height="2.4"/>
<rect x="285.31" y="233.09" width="2.4" height="2.4"/>
<rect x="286.46" y="233.22" width="2.4" height="2.4"/>
<rect x="278.73" y="234.54" width="2.4" height="2.4"/>
<rect x="280.47" y="234.83" width="2.4" height="2.4"/>
<rect x="281.8" y="234.65" width="2.4" height="2.4"/>
<rect x="283.56" y="235.18" width="2.4" height="2.4"/>
<rect x="284.97" y="234.44" width="2.4" height="2.4"/>
<rect x="286.68" y="235.03" width="2.4" height="2.4"/>
<rect x="277.15" y="236.43" width="2.4" height="2.4"/>
<rect x="278.43" y="236.05" width="2.4" height="2.4"/>
<rect x="280.55" y="236.3" width="2.4" height="2.4"/>
<rect x="282.26" y="236.24" width="2.4" height="2.4"/>
<rect x="283.64" y="236.52" width="2.4" height="2.4"/>
<rect x="284.84" y="236.39" width="2.4" height="2.4"/>
<rect x="286.99" y="236.5" width="2.4" height="2.4"/>
<rect x="276.95" y="237.75" width="2.4" height="2.4"/>
<rect x="278.76" y="238.17" width="2.4" height="2.4"/>
<rect x="281.91" y="238.05" width="2.4" height="2.4"/>
<rect x="283.98" y="238.14" width="2.4" height="2.4"/>
<rect x="285.31" y="237.68" width="2.4" height="2.4"/>
<rect x="277.43" y="239.78" width="2.4" height="2.4"/>
<rect x="278.59" y="239.76" width="2.4" height="2.4"/>
<rect x="282.06" y="239.85" width="2.4" height="2.4"/>
<rect x="285.5" y="239.22" width="2.4" height="2.4"/>
<rect x="286.71" y="239.82" width="2.4" height="2.4"/>
<rect x="277.24" y="241.4" width="2.4" height="2.4"/>
<rect x="278.43" y="241.42" width="2.4" height="2.4"/>
<rect x="280.38" y="240.8" width="2.4" height="2.4"/>
<rect x="282.13" y="241.41" width="2.4" height="2.4"/>
<rect x="283.55" y="241.39" width="2.4" height="2.4"/>
<rect x="284.96" y="241.23" width="2.4" height="2.4"/>
<rect x="286.98" y="240.96" width="2.4" height="2.4"/>
<rect x="277.08" y="242.98" width="2.4" height="2.4"/>
<rect x="278.54" y="242.99" width="2.4" height="2.4"/>
<rect x="280.6" y="242.52" width="2.4" height="2.4"/>
<rect x="281.8" y="242.81" width="2.4" height="2.4"/>
<rect x="283.91" y="243.15" width="2.4" height="2.4"/>
<rect x="285.4" y="242.96" width="2.4" height="2.4"/>
<rect x="286.6" y="243.16" width="2.4" height="2.4"/>
<rect x="277.06" y="244.16" width="2.4" height="2.4"/>
<rect x="279.12" y="244.02" width="2.4" height="2.4"/>
<rect x="280.25" y="244.01" width="2.4" height="2.4"/>
<rect x="281.82" y="244.17" width="2.4" height="2.4"/>
<rect x="283.49" y="244.1" width="2.4" height="2.4"/>
<rect x="285" y="244.46" width="2.4" height="2.4"/>
<rect x="286.64" y="244.42" width="2.4" height="2.4"/>
<rect x="275.78" y="245.87" width="2.4" height="2.4"/>
<rect x="277.43" y="246.05" width="2.4" height="2.4"/>
<rect x="278.66" y="245.71" width="2.4" height="2.4"/>
<rect x="280.49" y="245.68" width="2.4" height="2.4"/>
<rect x="282.31" y="245.63" width="2.4" height="2.4"/>
<rect x="283.39" y="246.03" width="2.4" height="2.4"/>
<rect x="285.08" y="246" width="2.4" height="2.4"/>
<rect x="286.55" y="246.1" width="2.4" height="2.4"/>
<rect x="275.99" y="247.35" width="2.4" height="2.4"/>
<rect x="276.83" y="247.42" width="2.4" height="2.4"/>
<rect x="278.52" y="247.62" width="2.4" height="2.4"/>
<rect x="280.64" y="247.28" width="2.4" height="2.4"/>
<rect x="282.29" y="247.3" width="2.4" height="2.4"/>
<rect x="283.81" y="247.58" width="2.4" height="2.4"/>
<rect x="285.07" y="247.52" width="2.4" height="2.4"/>
<rect x="286.68" y="247.97" width="2.4" height="2.4"/>
<rect x="275.36" y="249.24" width="2.4" height="2.4"/>
<rect x="276.89" y="249.48" width="2.4" height="2.4"/>
<rect x="279" y="249.28" width="2.4" height="2.4"/>
<rect x="280.77" y="248.88" width="2.4" height="2.4"/>
<rect x="282.18" y="249.05" width="2.4" height="2.4"/>
<rect x="283.53" y="249.4" width="2.4" height="2.4"/>
<rect x="285.55" y="249.11" width="2.4" height="2.4"/>
<rect x="286.78" y="249.45" width="2.4" height="2.4"/>
<rect x="275.64" y="250.42" width="2.4" height="2.4"/>
<rect x="276.86" y="251.09" width="2.4" height="2.4"/>
<rect x="278.74" y="251.18" width="2.4" height="2.4"/>
<rect x="280.77" y="250.47" width="2.4" height="2.4"/>
<rect x="283.94" y="250.75" width="2.4" height="2.4"/>
<rect x="285.45" y="250.62" width="2.4" height="2.4"/>
<rect x="287.14" y="250.62" width="2.4" height="2.4"/>
<rect x="277.39" y="252.17" width="2.4" height="2.4"/>
<rect x="279.12" y="252.53" width="2.4" height="2.4"/>
<rect x="280.1" y="252.33" width="2.4" height="2.4"/>
<rect x="281.6" y="252.34" width="2.4" height="2.4"/>
<rect x="284" y="252.08" width="2.4" height="2.4"/>
<rect x="285.47" y="252.59" width="2.4" height="2.4"/>
<rect x="286.96" y="252.39" width="2.4" height="2.4"/>
<rect x="277.44" y="253.71" width="2.4" height="2.4"/>
<rect x="278.74" y="253.81" width="2.4" height="2.4"/>
<rect x="280.37" y="254.12" width="2.4" height="2.4"/>
<rect x="282.31" y="254.01" width="2.4" height="2.4"/>
<rect x="285.06" y="253.85" width="2.4" height="2.4"/>
<rect x="286.73" y="253.63" width="2.4" height="2.4"/>
<rect x="275.59" y="255.9" width="2.4" height="2.4"/>
<rect x="277.38" y="255.81" width="2.4" height="2.4"/>
<rect x="278.98" y="255.36" width="2.4" height="2.4"/>
<rect x="280.48" y="255.82" width="2.4" height="2.4"/>
<rect x="281.88" y="255.86" width="2.4" height="2.4"/>
<rect x="283.98" y="255.29" width="2.4" height="2.4"/>
<rect x="284.89" y="255.78" width="2.4" height="2.4"/>
<rect x="286.92" y="255.82" width="2.4" height="2.4"/>
<rect x="275.65" y="257.54" width="2.4" height="2.4"/>
<rect x="277.32" y="257.27" width="2.4" height="2.4"/>
<rect x="279.01" y="257.26" width="2.4" height="2.4"/>
<rect x="280.34" y="257.14" width="2.4" height="2.4"/>
<rect x="282.05" y="257.09" width="2.4" height="2.4"/>
<rect x="283.54" y="257.1" width="2.4" height="2.4"/>
<rect x="284.87" y="256.81" width="2.4" height="2.4"/>
<rect x="286.72" y="257.16" width="2.4" height="2.4"/>
<rect x="277.5" y="259.15" width="2.4" height="2.4"/>
<rect x="278.77" y="258.66" width="2.4" height="2.4"/>
<rect x="280.71" y="259.07" width="2.4" height="2.4"/>
<rect x="281.8" y="258.96" width="2.4" height="2.4"/>
<rect x="283.58" y="258.71" width="2.4" height="2.4"/>
<rect x="285.44" y="259.09" width="2.4" height="2.4"/>
<rect x="286.49" y="258.87" width="2.4" height="2.4"/>
<rect x="275.77" y="260.37" width="2.4" height="2.4"/>
<rect x="276.85" y="260.59" width="2.4" height="2.4"/>
<rect x="279.05" y="260.53" width="2.4" height="2.4"/>
<rect x="280.71" y="260.75" width="2.4" height="2.4"/>
<rect x="281.68" y="260.47" width="2.4" height="2.4"/>
<rect x="283.4" y="260.74" width="2.4" height="2.4"/>
<rect x="284.9" y="260.18" width="2.4" height="2.4"/>
<rect x="286.86" y="260.26" width="2.4" height="2.4"/>
<rect x="275.85" y="261.75" width="2.4" height="2.4"/>
<rect x="277.06" y="262.36" width="2.4" height="2.4"/>
<rect x="278.66" y="262.08" width="2.4" height="2.4"/>
<rect x="280.33" y="262.1" width="2.4" height="2.4"/>
<rect x="281.87" y="261.63" width="2.4" height="2.4"/>
<rect x="283.65" y="261.74" width="2.4" height="2.4"/>
<rect x="285.29" y="262.32" width="2.4" height="2.4"/>
<rect x="286.6" y="262.07" width="2.4" height="2.4"/>
<rect x="275.83" y="263.32" width="2.4" height="2.4"/>
<rect x="277.15" y="263.93" width="2.4" height="2.4"/>
<rect x="278.55" y="263.31" width="2.4" height="2.4"/>
<rect x="280.27" y="263.52" width="2.4" height="2.4"/>
<rect x="281.92" y="263.58" width="2.4" height="2.4"/>
<rect x="283.82" y="263.92" width="2.4" height="2.4"/>
<rect x="285.54" y="263.4" width="2.4" height="2.4"/>
<rect x="286.82" y="263.75" width="2.4" height="2.4"/>
<rect x="275.42" y="264.91" width="2.4" height="2.4"/>
<rect x="277.09" y="265.36" width="2.4" height="2.4"/>
<rect x="278.82" y="264.97" width="2.4" height="2.4"/>
<rect x="280.27" y="265.35" width="2.4" height="2.4"/>
<rect x="281.6" y="265.37" width="2.4" height="2.4"/>
<rect x="283.26" y="265.01" width="2.4" height="2.4"/>
<rect x="285.46" y="265.24" width="2.4" height="2.4"/>
<rect x="286.6" y="265.03" width="2.4" height="2.4"/>
<rect x="275.48" y="267.03" width="2.4" height="2.4"/>
<rect x="277.36" y="267.11" width="2.4" height="2.4"/>
<rect x="278.49" y="266.44" width="2.4" height="2.4"/>
<rect x="280.21" y="266.82" width="2.4" height="2.4"/>
<rect x="282.07" y="266.74" width="2.4" height="2.4"/>
<rect x="283.99" y="267" width="2.4" height="2.4"/>
<rect x="284.84" y="267.19" width="2.4" height="2.4"/>
<rect x="287.08" y="266.49" width="2.4" height="2.4"/>
<rect x="275.49" y="268.71" width="2.4" height="2.4"/>
<rect x="276.88" y="268.16" width="2.4" height="2.4"/>
<rect x="279.18" y="268.51" width="2.4" height="2.4"/>
<rect x="280.23" y="268.22" width="2.4" height="2.4"/>
<rect x="282.39" y="268.03" width="2.4" height="2.4"/>
<rect x="283.48" y="268.15" width="2.4" height="2.4"/>
<rect x="285.54" y="268.2" width="2.4" height="2.4"/>
<rect x="286.9" y="268.53" width="2.4" height="2.4"/>
<rect x="276.89" y="269.74" width="2.4" height="2.4"/>
<rect x="278.81" y="269.98" width="2.4" height="2.4"/>
<rect x="280.58" y="270.32" width="2.4" height="2.4"/>
<rect x="283.45" y="269.71" width="2.4" height="2.4"/>
<rect x="285.43" y="269.7" width="2.4" height="2.4"/>
<rect x="287.08" y="270.15" width="2.4" height="2.4"/>
<rect x="275.75" y="271.84" width="2.4" height="2.4"/>
<rect x="276.92" y="271.73" width="2.4" height="2.4"/>
<rect x="278.51" y="271.33" width="2.4" height="2.4"/>
<rect x="280.1" y="271.51" width="2.4" height="2.4"/>
<rect x="282.04" y="271.52" width="2.4" height="2.4"/>
<rect x="283.27" y="271.46" width="2.4" height="2.4"/>
<rect x="285.49" y="271.94" width="2.4" height="2.4"/>
<rect x="275.66" y="272.89" width="2.4" height="2.4"/>
<rect x="276.88" y="273.5" width="2.4" height="2.4"/>
<rect x="278.73" y="273.23" width="2.4" height="2.4"/>
<rect x="280.56" y="273.44" width="2.4" height="2.4"/>
<rect x="282.3" y="273.05" width="2.4" height="2.4"/>
<rect x="283.81" y="273.35" width="2.4" height="2.4"/>
<rect x="285.07" y="272.92" width="2.4" height="2.4"/>
<rect x="275.47" y="274.66" width="2.4" height="2.4"/>
<rect x="277.4" y="275.11" width="2.4" height="2.4"/>
<rect x="278.95" y="274.72" width="2.4" height="2.4"/>
<rect x="280.61" y="274.84" width="2.4" height="2.4"/>
<rect x="281.82" y="275.11" width="2.4" height="2.4"/>
<rect x="283.44" y="274.47" width="2.4" height="2.4"/>
<rect x="275.64" y="276.43" width="2.4" height="2.4"/>
<rect x="277.25" y="276.07" width="2.4" height="2.4"/>
<rect x="278.48" y="276.11" width="2.4" height="2.4"/>
<rect x="280.51" y="276.65" width="2.4" height="2.4"/>
<rect x="277.52" y="278.2" width="2.4" height="2.4"/>
<rect x="278.78" y="277.82" width="2.4" height="2.4"/>
<rect x="280.2" y="227.2" width="3.0" height="3.0"/>
<rect x="335.3" y="212.5" width="3.0" height="3.0"/>
<rect x="339.7" y="214.7" width="3.0" height="3.0"/>
<rect x="336.4" y="220.2" width="3.0" height="3.0"/>
<rect x="336.4" y="223" width="3.0" height="3.0"/>
<rect x="328.7" y="225.4" width="3.0" height="3.0"/>
<rect x="330.9" y="226.3" width="3.0" height="3.0"/>
<rect x="333.1" y="228.5" width="3.0" height="3.0"/>
<rect x="334.5" y="232.3" width="3.0" height="3.0"/>
<rect x="333.1" y="235.9" width="3.0" height="3.0"/>
<rect x="329.6" y="240.9" width="3.0" height="3.0"/>
<rect x="339.3" y="242.7" width="3.0" height="3.0"/>
<rect x="338" y="244.8" width="3.0" height="3.0"/>
<rect x="336.8" y="246.7" width="3.0" height="3.0"/>
<rect x="332.5" y="248.3" width="3.0" height="3.0"/>
<rect x="335.1" y="248.1" width="3.0" height="3.0"/>
<rect x="337.7" y="248.7" width="3.0" height="3.0"/>
<rect x="339.9" y="250.1" width="3.0" height="3.0"/>
<rect x="332.3" y="250.3" width="3.0" height="3.0"/>
<rect x="334.9" y="250.3" width="3.0" height="3.0"/>
<rect x="337.3" y="250.7" width="3.0" height="3.0"/>
<rect x="330.1" y="254.7" width="3.0" height="3.0"/>
<rect x="333.1" y="255.1" width="3.0" height="3.0"/>
<rect x="336.7" y="254.8" width="3.0" height="3.0"/>
<rect x="338.1" y="256.7" width="3.0" height="3.0"/>
<rect x="330.1" y="261.3" width="3.0" height="3.0"/>
<rect x="334.7" y="261.5" width="3.0" height="3.0"/>
<rect x="335.9" y="263.1" width="3.0" height="3.0"/>
<rect x="329.7" y="265.1" width="3.0" height="3.0"/>
<rect x="330.8" y="267.1" width="3.0" height="3.0"/>
<rect x="335.7" y="269.3" width="3.0" height="3.0"/>
<rect x="336.9" y="271.7" width="3.0" height="3.0"/>
<rect x="338.6" y="278.7" width="3.0" height="3.0"/>
<rect x="331.3" y="285.2" width="3.0" height="3.0"/>
<rect x="330.75" y="274.16" width="2.4" height="2.4"/>
<rect x="332.68" y="274.08" width="2.4" height="2.4"/>
<rect x="329.06" y="275.76" width="2.4" height="2.4"/>
<rect x="330.58" y="275.8" width="2.4" height="2.4"/>
<rect x="332.99" y="276.37" width="2.4" height="2.4"/>
<rect x="328.62" y="277.65" width="2.4" height="2.4"/>
<rect x="330.54" y="278.14" width="2.4" height="2.4"/>
<rect x="332.68" y="277.84" width="2.4" height="2.4"/>
<rect x="334.65" y="278.17" width="2.4" height="2.4"/>
<rect x="330.67" y="279.99" width="2.4" height="2.4"/>
<rect x="332.89" y="280.2" width="2.4" height="2.4"/>
<rect x="334.75" y="279.89" width="2.4" height="2.4"/>
<rect x="332.48" y="281.68" width="2.4" height="2.4"/>
</g>
<polyline points="121.5,138.73 125.23,136.68 128.96,134.67 132.69,132.68 136.42,130.74 140.15,128.82 143.88,126.94 147.61,125.09 151.34,123.27 155.07,121.48 158.81,119.73 162.54,118.02 166.27,116.33 170,114.68 173.73,113.06 177.46,111.47 181.19,109.92 184.92,108.4 188.65,106.91 192.38,105.46 196.11,104.04 199.84,102.65 203.57,101.3 207.3,99.97 211.03,98.69 214.76,97.43 218.49,96.21 222.22,95.02 225.95,93.86 229.68,92.74 233.42,91.65 237.15,90.59 240.88,89.56 244.61,88.57 248.34,87.61 252.07,86.69 255.8,85.79 259.53,84.93 263.26,84.11 266.99,83.31 270.72,82.55 274.45,81.83 278.18,81.13 281.91,80.47 285.64,79.84 289.37,79.25 293.1,78.68 296.83,78.15 300.56,77.66 304.29,77.19 308.03,76.76 311.76,76.36 315.49,76 319.22,75.67 322.95,75.37 326.68,75.1 330.41,74.87 334.14,74.67 337.87,74.51 341.6,74.37" fill="none" stroke="#2f5597" stroke-width="1.2"/>
<line x1="122.2" y1="130.2" x2="281.6" y2="79.3" stroke="#c00000" stroke-width="2.1"/>
<line x1="281.6" y1="79.3" x2="335.3" y2="84.2" stroke="#c00000" stroke-width="1.9" stroke-dasharray="1.7 1.6"/>
<polyline points="506.5,136.65 510.23,134.73 513.96,132.83 517.7,130.97 521.43,129.13 525.16,127.32 528.89,125.54 532.63,123.79 536.36,122.07 540.09,120.38 543.82,118.72 547.55,117.08 551.29,115.48 555.02,113.9 558.75,112.36 562.48,110.84 566.22,109.35 569.95,107.89 573.68,106.46 577.41,105.06 581.14,103.69 584.88,102.35 588.61,101.03 592.34,99.75 596.07,98.49 599.81,97.26 603.54,96.07 607.27,94.9 611,93.76 614.73,92.65 618.47,91.57 622.2,90.51 625.93,89.49 629.66,88.5 633.39,87.53 637.13,86.59 640.86,85.69 644.59,84.81 648.32,83.96 652.06,83.14 655.79,82.35 659.52,81.59 663.25,80.85 666.98,80.15 670.72,79.48 674.45,78.83 678.18,78.21 681.91,77.63 685.65,77.07 689.38,76.54 693.11,76.04 696.84,75.57 700.57,75.12 704.31,74.71 708.04,74.33 711.77,73.97 715.5,73.65 719.24,73.35 722.97,73.08 726.7,72.84" fill="none" stroke="#2f5597" stroke-width="1.2"/>
<line x1="508.1" y1="127" x2="668.7" y2="76.2" stroke="#c00000" stroke-width="2.1"/>
<line x1="668.7" y1="76.2" x2="719.4" y2="78.2" stroke="#c00000" stroke-width="1.9" stroke-dasharray="1.7 1.6"/>
<polyline points="122.3,315.19 126.02,313.39 129.74,311.62 133.46,309.88 137.17,308.15 140.89,306.46 144.61,304.78 148.33,303.13 152.05,301.5 155.77,299.9 159.49,298.32 163.21,296.77 166.92,295.24 170.64,293.73 174.36,292.25 178.08,290.79 181.8,289.36 185.52,287.95 189.24,286.57 192.95,285.2 196.67,283.87 200.39,282.55 204.11,281.26 207.83,280 211.55,278.76 215.27,277.54 218.98,276.35 222.7,275.18 226.42,274.03 230.14,272.91 233.86,271.81 237.58,270.74 241.3,269.69 245.02,268.67 248.73,267.67 252.45,266.69 256.17,265.74 259.89,264.81 263.61,263.91 267.33,263.03 271.05,262.17 274.76,261.34 278.48,260.53 282.2,259.74 285.92,258.98 289.64,258.25 293.36,257.54 297.08,256.85 300.79,256.18 304.51,255.54 308.23,254.93 311.95,254.34 315.67,253.77 319.39,253.23 323.11,252.71 326.83,252.21 330.54,251.74 334.26,251.29 337.98,250.87 341.7,250.47" fill="none" stroke="#2f5597" stroke-width="1.2"/>
<line x1="122.7" y1="308.6" x2="282.9" y2="258.4" stroke="#c00000" stroke-width="2.1"/>
<line x1="282.9" y1="258.4" x2="336" y2="260.3" stroke="#c00000" stroke-width="1.9" stroke-dasharray="1.7 1.6"/>
<line x1="552" y1="278.4" x2="585.6" y2="278.4" stroke="#2f5597" stroke-width="1.4"/>
<line x1="552" y1="308.3" x2="585.6" y2="308.3" stroke="#c00000" stroke-width="1.5"/>
<text x="593.5" y="284.1" font-size="13" fill="#262626">:</text>
<text x="601.4" y="284.1" font-size="13.6" fill="#262626" textLength="73.6" lengthAdjust="spacingAndGlyphs">Steam-PM#1</text>
<text x="593.5" y="314.6" font-size="13" fill="#262626">:</text>
<text x="601.5" y="314.7" font-size="13.6" fill="#262626" textLength="75" lengthAdjust="spacingAndGlyphs">Steam-PM#2</text>
</svg></body></html>
